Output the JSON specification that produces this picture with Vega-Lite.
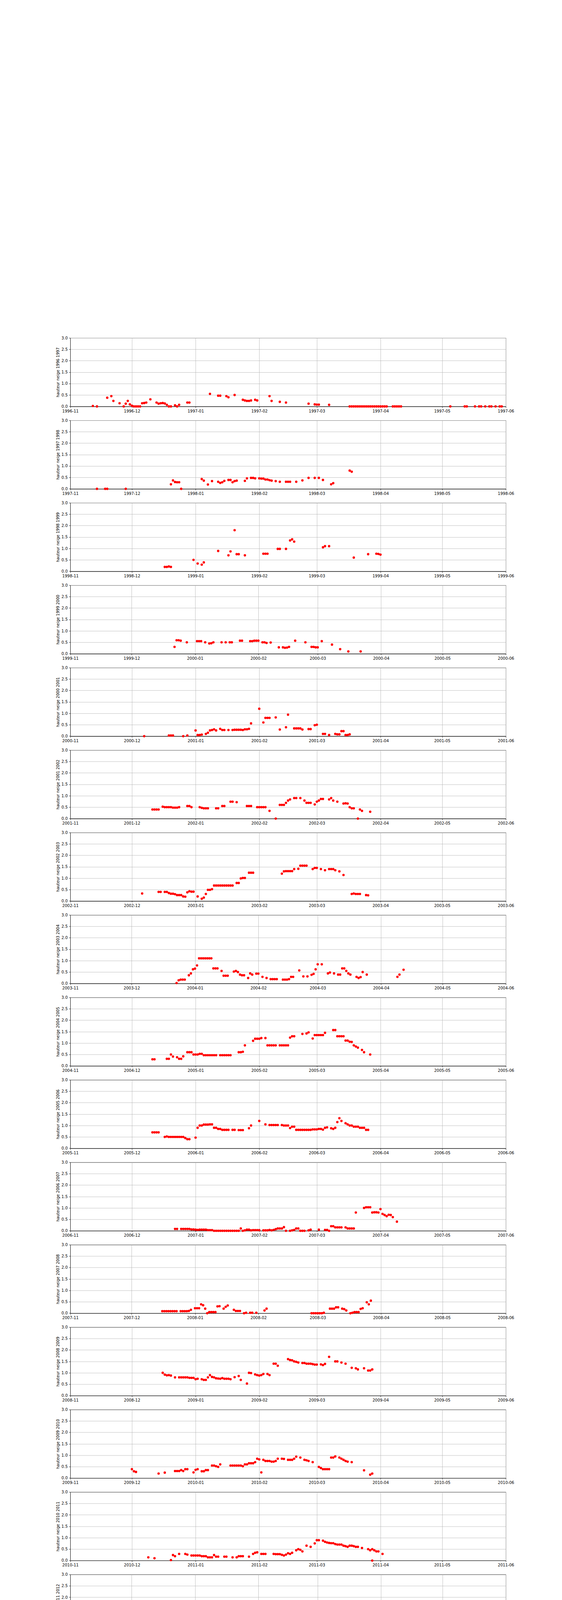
{
"$schema": "https://vega.github.io/schema/vega-lite/v6.json",
"background": "white",
"autosize": {"type": "pad"},
"padding": {"left": 142, "top": 859, "right": 0, "bottom": 880},
"spacing": 35.04,
"bounds": "flush",
"config": {
  "view": {"stroke": "#000000", "strokeWidth": 1},
  "axis": {"labelFont": "DejaVu Sans", "labelFontSize": 10, "labelColor": "#000000", "titleFont": "DejaVu Sans", "titleFontSize": 10, "titleFontWeight": "normal", "titleColor": "#000000", "tickColor": "#000000", "tickSize": 3.5, "tickWidth": 0.8, "domainColor": "#000000", "domainWidth": 1, "gridColor": "#b0b0b0", "gridWidth": 0.8, "labelPadding": 3.5, "titlePadding": 4, "labelFlush": false, "labelOverlap": false, "labelBound": false},
  "axisX": {"labelExpr": "utcFormat(datum.value, '%Y-%m')", "tickCount": {"interval": "month", "step": 1}, "title": null},
  "axisY": {"values": [0, 0.5, 1, 1.5, 2, 2.5, 3], "format": ".1f"},
  "point": {"filled": true, "color": "#ff0000", "opacity": 1, "size": 38, "clip": true}
},
"datasets": {
"s1996": [
{"date":"1996-11-12","hauteur":0.02},{"date":"1996-11-14","hauteur":0},{"date":"1996-11-19","hauteur":0.38},{"date":"1996-11-21","hauteur":0.45},{"date":"1996-11-22","hauteur":0.24},{"date":"1996-11-25","hauteur":0.14},{"date":"1996-11-27","hauteur":0},{"date":"1996-11-28","hauteur":0.12},{"date":"1996-11-29","hauteur":0.24},{"date":"1996-11-30","hauteur":0.09},{"date":"1996-12-01","hauteur":0.03},{"date":"1996-12-02","hauteur":0},{"date":"1996-12-03","hauteur":0},{"date":"1996-12-04","hauteur":0},{"date":"1996-12-05","hauteur":0},{"date":"1996-12-06","hauteur":0.14},{"date":"1996-12-07","hauteur":0.15},{"date":"1996-12-08","hauteur":0.17},{"date":"1996-12-10","hauteur":0.31},{"date":"1996-12-13","hauteur":0.17},{"date":"1996-12-14","hauteur":0.12},{"date":"1996-12-15","hauteur":0.14},{"date":"1996-12-16","hauteur":0.15},{"date":"1996-12-17","hauteur":0.13},{"date":"1996-12-18","hauteur":0.07},{"date":"1996-12-19","hauteur":0},{"date":"1996-12-20","hauteur":0},{"date":"1996-12-22","hauteur":0.05},{"date":"1996-12-23","hauteur":0},{"date":"1996-12-24","hauteur":0.07},{"date":"1996-12-28","hauteur":0.17},{"date":"1996-12-29","hauteur":0.17},{"date":"1997-01-08","hauteur":0.55},{"date":"1997-01-12","hauteur":0.47},{"date":"1997-01-13","hauteur":0.47},{"date":"1997-01-16","hauteur":0.45},{"date":"1997-01-17","hauteur":0.4},{"date":"1997-01-20","hauteur":0.5},{"date":"1997-01-24","hauteur":0.29},{"date":"1997-01-25","hauteur":0.26},{"date":"1997-01-26","hauteur":0.24},{"date":"1997-01-27","hauteur":0.24},{"date":"1997-01-28","hauteur":0.26},{"date":"1997-01-30","hauteur":0.29},{"date":"1997-01-31","hauteur":0.26},{"date":"1997-02-06","hauteur":0.45},{"date":"1997-02-07","hauteur":0.24},{"date":"1997-02-11","hauteur":0.2},{"date":"1997-02-14","hauteur":0.17},{"date":"1997-02-25","hauteur":0.12},{"date":"1997-02-28","hauteur":0.09},{"date":"1997-03-01","hauteur":0.08},{"date":"1997-03-02","hauteur":0.08},{"date":"1997-03-07","hauteur":0.07},
{"date":"1997-03-17","hauteur":0},{"date":"1997-03-18","hauteur":0},{"date":"1997-03-19","hauteur":0},{"date":"1997-03-20","hauteur":0},{"date":"1997-03-21","hauteur":0},{"date":"1997-03-22","hauteur":0},{"date":"1997-03-23","hauteur":0},{"date":"1997-03-24","hauteur":0},{"date":"1997-03-25","hauteur":0},{"date":"1997-03-26","hauteur":0},{"date":"1997-03-27","hauteur":0},{"date":"1997-03-28","hauteur":0},{"date":"1997-03-29","hauteur":0},{"date":"1997-03-30","hauteur":0},{"date":"1997-03-31","hauteur":0},{"date":"1997-04-01","hauteur":0},{"date":"1997-04-02","hauteur":0},{"date":"1997-04-03","hauteur":0},{"date":"1997-04-04","hauteur":0},{"date":"1997-04-07","hauteur":0},{"date":"1997-04-08","hauteur":0},{"date":"1997-04-09","hauteur":0},{"date":"1997-04-10","hauteur":0},{"date":"1997-04-11","hauteur":0},{"date":"1997-05-05","hauteur":0},{"date":"1997-05-12","hauteur":0},{"date":"1997-05-13","hauteur":0},{"date":"1997-05-17","hauteur":0},{"date":"1997-05-19","hauteur":0},{"date":"1997-05-20","hauteur":0},{"date":"1997-05-22","hauteur":0},{"date":"1997-05-24","hauteur":0},{"date":"1997-05-25","hauteur":0},{"date":"1997-05-27","hauteur":0},{"date":"1997-05-29","hauteur":0},{"date":"1997-05-30","hauteur":0}
],
"s1997": [
{"date":"1997-11-14","hauteur":0},{"date":"1997-11-18","hauteur":0},{"date":"1997-11-19","hauteur":0},{"date":"1997-11-28","hauteur":0},{"date":"1997-12-20","hauteur":0.2},{"date":"1997-12-21","hauteur":0.37},{"date":"1997-12-22","hauteur":0.3},{"date":"1997-12-23","hauteur":0.29},{"date":"1997-12-24","hauteur":0.29},{"date":"1997-12-25","hauteur":0},{"date":"1998-01-04","hauteur":0.43},{"date":"1998-01-05","hauteur":0.36},{"date":"1998-01-07","hauteur":0.19},{"date":"1998-01-09","hauteur":0.34},{"date":"1998-01-12","hauteur":0.31},{"date":"1998-01-13","hauteur":0.26},{"date":"1998-01-14","hauteur":0.29},{"date":"1998-01-15","hauteur":0.35},{"date":"1998-01-17","hauteur":0.39},{"date":"1998-01-18","hauteur":0.39},{"date":"1998-01-19","hauteur":0.29},{"date":"1998-01-20","hauteur":0.34},{"date":"1998-01-21","hauteur":0.36},{"date":"1998-01-25","hauteur":0.35},{"date":"1998-01-26","hauteur":0.46},{"date":"1998-01-28","hauteur":0.48},{"date":"1998-01-29","hauteur":0.48},{"date":"1998-01-30","hauteur":0.46},{"date":"1998-02-01","hauteur":0.46},{"date":"1998-02-02","hauteur":0.45},{"date":"1998-02-03","hauteur":0.45},{"date":"1998-02-04","hauteur":0.41},{"date":"1998-02-05","hauteur":0.41},{"date":"1998-02-06","hauteur":0.38},{"date":"1998-02-07","hauteur":0.36},{"date":"1998-02-09","hauteur":0.34},{"date":"1998-02-11","hauteur":0.31},{"date":"1998-02-14","hauteur":0.31},{"date":"1998-02-15","hauteur":0.31},{"date":"1998-02-16","hauteur":0.31},{"date":"1998-02-19","hauteur":0.31},{"date":"1998-02-22","hauteur":0.37},{"date":"1998-02-25","hauteur":0.48},{"date":"1998-02-28","hauteur":0.48},{"date":"1998-03-02","hauteur":0.48},{"date":"1998-03-04","hauteur":0.39},{"date":"1998-03-08","hauteur":0.2},{"date":"1998-03-09","hauteur":0.25},{"date":"1998-03-17","hauteur":0.8},{"date":"1998-03-18","hauteur":0.75}
],
"s1998": [
{"date":"1998-12-17","hauteur":0.19},{"date":"1998-12-18","hauteur":0.19},{"date":"1998-12-19","hauteur":0.21},{"date":"1998-12-20","hauteur":0.19},{"date":"1998-12-31","hauteur":0.5},{"date":"1999-01-02","hauteur":0.34},{"date":"1999-01-04","hauteur":0.29},{"date":"1999-01-05","hauteur":0.39},{"date":"1999-01-12","hauteur":0.89},{"date":"1999-01-17","hauteur":0.7},{"date":"1999-01-18","hauteur":0.87},{"date":"1999-01-20","hauteur":1.8},{"date":"1999-01-21","hauteur":0.75},{"date":"1999-01-22","hauteur":0.75},{"date":"1999-01-25","hauteur":0.7},{"date":"1999-02-03","hauteur":0.77},{"date":"1999-02-04","hauteur":0.77},{"date":"1999-02-05","hauteur":0.77},{"date":"1999-02-10","hauteur":0.98},{"date":"1999-02-11","hauteur":0.98},{"date":"1999-02-14","hauteur":0.98},{"date":"1999-02-16","hauteur":1.35},{"date":"1999-02-17","hauteur":1.4},{"date":"1999-02-18","hauteur":1.3},{"date":"1999-03-04","hauteur":1.05},{"date":"1999-03-05","hauteur":1.1},{"date":"1999-03-07","hauteur":1.1},{"date":"1999-03-19","hauteur":0.6},{"date":"1999-03-26","hauteur":0.75},{"date":"1999-03-30","hauteur":0.77},{"date":"1999-03-31","hauteur":0.76},{"date":"1999-04-01","hauteur":0.73}
],
"s1999": [
{"date":"1999-12-22","hauteur":0.3},{"date":"1999-12-23","hauteur":0.59},{"date":"1999-12-24","hauteur":0.59},{"date":"1999-12-25","hauteur":0.57},{"date":"1999-12-28","hauteur":0.5},{"date":"2000-01-02","hauteur":0.55},{"date":"2000-01-03","hauteur":0.55},{"date":"2000-01-04","hauteur":0.55},{"date":"2000-01-06","hauteur":0.5},{"date":"2000-01-08","hauteur":0.45},{"date":"2000-01-09","hauteur":0.46},{"date":"2000-01-10","hauteur":0.5},{"date":"2000-01-14","hauteur":0.5},{"date":"2000-01-16","hauteur":0.5},{"date":"2000-01-18","hauteur":0.5},{"date":"2000-01-19","hauteur":0.5},{"date":"2000-01-23","hauteur":0.57},{"date":"2000-01-24","hauteur":0.57},{"date":"2000-01-28","hauteur":0.55},{"date":"2000-01-29","hauteur":0.55},{"date":"2000-01-30","hauteur":0.57},{"date":"2000-01-31","hauteur":0.57},{"date":"2000-02-01","hauteur":0.57},{"date":"2000-02-03","hauteur":0.5},{"date":"2000-02-04","hauteur":0.5},{"date":"2000-02-05","hauteur":0.47},{"date":"2000-02-07","hauteur":0.49},{"date":"2000-02-11","hauteur":0.28},{"date":"2000-02-13","hauteur":0.28},{"date":"2000-02-14","hauteur":0.26},{"date":"2000-02-15","hauteur":0.27},{"date":"2000-02-16","hauteur":0.3},{"date":"2000-02-19","hauteur":0.57},{"date":"2000-02-24","hauteur":0.5},{"date":"2000-02-27","hauteur":0.3},{"date":"2000-02-28","hauteur":0.3},{"date":"2000-02-29","hauteur":0.28},{"date":"2000-03-01","hauteur":0.28},{"date":"2000-03-03","hauteur":0.55},{"date":"2000-03-08","hauteur":0.4},{"date":"2000-03-12","hauteur":0.2},{"date":"2000-03-16","hauteur":0.1},{"date":"2000-03-22","hauteur":0.1}
],
"s2000": [
{"date":"2000-12-07","hauteur":0},{"date":"2000-12-19","hauteur":0.03},{"date":"2000-12-20","hauteur":0.03},{"date":"2000-12-21","hauteur":0.03},{"date":"2000-12-26","hauteur":0},{"date":"2000-12-28","hauteur":0.03},{"date":"2001-01-01","hauteur":0.25},{"date":"2001-01-02","hauteur":0.05},{"date":"2001-01-03","hauteur":0.05},{"date":"2001-01-04","hauteur":0.07},{"date":"2001-01-06","hauteur":0.1},{"date":"2001-01-07","hauteur":0.15},{"date":"2001-01-08","hauteur":0.25},{"date":"2001-01-09","hauteur":0.27},{"date":"2001-01-10","hauteur":0.3},{"date":"2001-01-11","hauteur":0.25},{"date":"2001-01-13","hauteur":0.32},{"date":"2001-01-14","hauteur":0.27},{"date":"2001-01-15","hauteur":0.27},{"date":"2001-01-17","hauteur":0.27},{"date":"2001-01-19","hauteur":0.27},{"date":"2001-01-20","hauteur":0.28},{"date":"2001-01-21","hauteur":0.28},{"date":"2001-01-22","hauteur":0.28},{"date":"2001-01-23","hauteur":0.28},{"date":"2001-01-24","hauteur":0.27},{"date":"2001-01-25","hauteur":0.3},{"date":"2001-01-26","hauteur":0.3},{"date":"2001-01-27","hauteur":0.32},{"date":"2001-01-28","hauteur":0.56},{"date":"2001-02-01","hauteur":1.2},{"date":"2001-02-03","hauteur":0.6},{"date":"2001-02-04","hauteur":0.8},{"date":"2001-02-05","hauteur":0.8},{"date":"2001-02-06","hauteur":0.8},{"date":"2001-02-09","hauteur":0.82},{"date":"2001-02-11","hauteur":0.29},{"date":"2001-02-14","hauteur":0.39},{"date":"2001-02-15","hauteur":0.94},{"date":"2001-02-18","hauteur":0.34},{"date":"2001-02-19","hauteur":0.34},{"date":"2001-02-20","hauteur":0.34},{"date":"2001-02-21","hauteur":0.34},{"date":"2001-02-22","hauteur":0.29},{"date":"2001-02-25","hauteur":0.31},{"date":"2001-02-26","hauteur":0.31},{"date":"2001-02-28","hauteur":0.48},{"date":"2001-03-01","hauteur":0.5},{"date":"2001-03-04","hauteur":0.1},{"date":"2001-03-05","hauteur":0.1},{"date":"2001-03-07","hauteur":0.05},{"date":"2001-03-10","hauteur":0.1},{"date":"2001-03-11","hauteur":0.08},{"date":"2001-03-12","hauteur":0.08},{"date":"2001-03-13","hauteur":0.22},{"date":"2001-03-14","hauteur":0.22},{"date":"2001-03-15","hauteur":0.05},{"date":"2001-03-16","hauteur":0.05},{"date":"2001-03-17","hauteur":0.08}
],
"s2001": [
{"date":"2001-12-11","hauteur":0.4},{"date":"2001-12-12","hauteur":0.4},{"date":"2001-12-13","hauteur":0.4},{"date":"2001-12-14","hauteur":0.4},{"date":"2001-12-16","hauteur":0.52},{"date":"2001-12-17","hauteur":0.5},{"date":"2001-12-18","hauteur":0.5},{"date":"2001-12-19","hauteur":0.5},{"date":"2001-12-20","hauteur":0.5},{"date":"2001-12-21","hauteur":0.48},{"date":"2001-12-22","hauteur":0.48},{"date":"2001-12-23","hauteur":0.48},{"date":"2001-12-24","hauteur":0.5},{"date":"2001-12-28","hauteur":0.55},{"date":"2001-12-29","hauteur":0.55},{"date":"2001-12-30","hauteur":0.5},{"date":"2002-01-03","hauteur":0.5},{"date":"2002-01-04","hauteur":0.47},{"date":"2002-01-05","hauteur":0.45},{"date":"2002-01-06","hauteur":0.45},{"date":"2002-01-07","hauteur":0.45},{"date":"2002-01-11","hauteur":0.45},{"date":"2002-01-12","hauteur":0.45},{"date":"2002-01-14","hauteur":0.55},{"date":"2002-01-15","hauteur":0.55},{"date":"2002-01-18","hauteur":0.74},{"date":"2002-01-19","hauteur":0.74},{"date":"2002-01-21","hauteur":0.72},{"date":"2002-01-26","hauteur":0.55},{"date":"2002-01-27","hauteur":0.55},{"date":"2002-01-28","hauteur":0.55},{"date":"2002-01-31","hauteur":0.5},{"date":"2002-02-01","hauteur":0.5},{"date":"2002-02-02","hauteur":0.5},{"date":"2002-02-03","hauteur":0.5},{"date":"2002-02-04","hauteur":0.5},{"date":"2002-02-06","hauteur":0.34},{"date":"2002-02-09","hauteur":0},{"date":"2002-02-11","hauteur":0.6},{"date":"2002-02-12","hauteur":0.6},{"date":"2002-02-13","hauteur":0.6},{"date":"2002-02-14","hauteur":0.69},{"date":"2002-02-15","hauteur":0.79},{"date":"2002-02-16","hauteur":0.84},{"date":"2002-02-18","hauteur":0.9},{"date":"2002-02-19","hauteur":0.9},{"date":"2002-02-21","hauteur":0.9},{"date":"2002-02-23","hauteur":0.79},{"date":"2002-02-24","hauteur":0.69},{"date":"2002-02-25","hauteur":0.69},{"date":"2002-02-26","hauteur":0.69},{"date":"2002-02-28","hauteur":0.62},{"date":"2002-03-01","hauteur":0.74},{"date":"2002-03-02","hauteur":0.79},{"date":"2002-03-03","hauteur":0.86},{"date":"2002-03-04","hauteur":0.86},{"date":"2002-03-07","hauteur":0.84},{"date":"2002-03-08","hauteur":0.9},{"date":"2002-03-09","hauteur":0.79},{"date":"2002-03-11","hauteur":0.74},{"date":"2002-03-14","hauteur":0.66},{"date":"2002-03-15","hauteur":0.67},{"date":"2002-03-16","hauteur":0.66},{"date":"2002-03-17","hauteur":0.5},{"date":"2002-03-18","hauteur":0.45},{"date":"2002-03-19","hauteur":0.45},{"date":"2002-03-21","hauteur":0},{"date":"2002-03-22","hauteur":0.4},{"date":"2002-03-23","hauteur":0.34},{"date":"2002-03-27","hauteur":0.3}
],
"s2002": [
{"date":"2002-12-06","hauteur":0.33},{"date":"2002-12-14","hauteur":0.4},{"date":"2002-12-15","hauteur":0.4},{"date":"2002-12-17","hauteur":0.4},{"date":"2002-12-18","hauteur":0.4},{"date":"2002-12-19","hauteur":0.35},{"date":"2002-12-20","hauteur":0.32},{"date":"2002-12-21","hauteur":0.32},{"date":"2002-12-22","hauteur":0.3},{"date":"2002-12-23","hauteur":0.26},{"date":"2002-12-24","hauteur":0.26},{"date":"2002-12-25","hauteur":0.26},{"date":"2002-12-26","hauteur":0.2},{"date":"2002-12-27","hauteur":0.19},{"date":"2002-12-28","hauteur":0.38},{"date":"2002-12-29","hauteur":0.43},{"date":"2002-12-30","hauteur":0.41},{"date":"2002-12-31","hauteur":0.41},{"date":"2003-01-02","hauteur":0.2},{"date":"2003-01-04","hauteur":0.1},{"date":"2003-01-05","hauteur":0.15},{"date":"2003-01-06","hauteur":0.31},{"date":"2003-01-07","hauteur":0.49},{"date":"2003-01-08","hauteur":0.49},{"date":"2003-01-09","hauteur":0.52},{"date":"2003-01-10","hauteur":0.68},{"date":"2003-01-11","hauteur":0.68},{"date":"2003-01-12","hauteur":0.68},{"date":"2003-01-13","hauteur":0.68},{"date":"2003-01-14","hauteur":0.68},{"date":"2003-01-15","hauteur":0.68},{"date":"2003-01-16","hauteur":0.68},{"date":"2003-01-17","hauteur":0.68},{"date":"2003-01-18","hauteur":0.68},{"date":"2003-01-19","hauteur":0.68},{"date":"2003-01-21","hauteur":0.79},{"date":"2003-01-22","hauteur":0.79},{"date":"2003-01-23","hauteur":0.99},{"date":"2003-01-24","hauteur":1.01},{"date":"2003-01-25","hauteur":1.01},{"date":"2003-01-27","hauteur":1.24},{"date":"2003-01-28","hauteur":1.24},{"date":"2003-01-29","hauteur":1.24},{"date":"2003-02-12","hauteur":1.2},{"date":"2003-02-13","hauteur":1.3},{"date":"2003-02-14","hauteur":1.31},{"date":"2003-02-15","hauteur":1.31},{"date":"2003-02-16","hauteur":1.31},{"date":"2003-02-17","hauteur":1.31},{"date":"2003-02-18","hauteur":1.4},{"date":"2003-02-20","hauteur":1.41},{"date":"2003-02-21","hauteur":1.55},{"date":"2003-02-22","hauteur":1.55},{"date":"2003-02-23","hauteur":1.55},{"date":"2003-02-24","hauteur":1.55},{"date":"2003-02-27","hauteur":1.4},{"date":"2003-02-28","hauteur":1.45},{"date":"2003-03-01","hauteur":1.45},{"date":"2003-03-03","hauteur":1.4},{"date":"2003-03-05","hauteur":1.35},{"date":"2003-03-07","hauteur":1.4},{"date":"2003-03-08","hauteur":1.4},{"date":"2003-03-09","hauteur":1.4},{"date":"2003-03-10","hauteur":1.35},{"date":"2003-03-12","hauteur":1.3},{"date":"2003-03-14","hauteur":1.14},{"date":"2003-03-18","hauteur":0.31},{"date":"2003-03-19","hauteur":0.33},{"date":"2003-03-20","hauteur":0.31},{"date":"2003-03-21","hauteur":0.31},{"date":"2003-03-22","hauteur":0.31},{"date":"2003-03-25","hauteur":0.26},{"date":"2003-03-26","hauteur":0.25}
],
"s2003": [
{"date":"2003-12-23","hauteur":0.02},{"date":"2003-12-24","hauteur":0.14},{"date":"2003-12-25","hauteur":0.17},{"date":"2003-12-26","hauteur":0.17},{"date":"2003-12-27","hauteur":0.17},{"date":"2003-12-29","hauteur":0.36},{"date":"2003-12-30","hauteur":0.44},{"date":"2003-12-31","hauteur":0.62},{"date":"2004-01-01","hauteur":0.65},{"date":"2004-01-02","hauteur":0.79},{"date":"2004-01-03","hauteur":1.1},{"date":"2004-01-04","hauteur":1.1},{"date":"2004-01-05","hauteur":1.1},{"date":"2004-01-06","hauteur":1.1},{"date":"2004-01-07","hauteur":1.1},{"date":"2004-01-08","hauteur":1.1},{"date":"2004-01-09","hauteur":1.1},{"date":"2004-01-10","hauteur":0.66},{"date":"2004-01-11","hauteur":0.66},{"date":"2004-01-12","hauteur":0.66},{"date":"2004-01-14","hauteur":0.55},{"date":"2004-01-15","hauteur":0.34},{"date":"2004-01-16","hauteur":0.34},{"date":"2004-01-17","hauteur":0.34},{"date":"2004-01-20","hauteur":0.52},{"date":"2004-01-21","hauteur":0.55},{"date":"2004-01-22","hauteur":0.5},{"date":"2004-01-23","hauteur":0.39},{"date":"2004-01-24","hauteur":0.36},{"date":"2004-01-25","hauteur":0.36},{"date":"2004-01-27","hauteur":0.24},{"date":"2004-01-28","hauteur":0.44},{"date":"2004-01-29","hauteur":0.39},{"date":"2004-01-31","hauteur":0.43},{"date":"2004-02-01","hauteur":0.43},{"date":"2004-02-03","hauteur":0.29},{"date":"2004-02-05","hauteur":0.24},{"date":"2004-02-07","hauteur":0.19},{"date":"2004-02-08","hauteur":0.19},{"date":"2004-02-09","hauteur":0.19},{"date":"2004-02-10","hauteur":0.19},{"date":"2004-02-13","hauteur":0.17},{"date":"2004-02-14","hauteur":0.17},{"date":"2004-02-15","hauteur":0.17},{"date":"2004-02-16","hauteur":0.19},{"date":"2004-02-17","hauteur":0.29},{"date":"2004-02-18","hauteur":0.29},{"date":"2004-02-21","hauteur":0.57},{"date":"2004-02-23","hauteur":0.31},{"date":"2004-02-25","hauteur":0.31},{"date":"2004-02-27","hauteur":0.38},{"date":"2004-02-28","hauteur":0.42},{"date":"2004-02-29","hauteur":0.62},{"date":"2004-03-01","hauteur":0.84},{"date":"2004-03-03","hauteur":0.84},{"date":"2004-03-06","hauteur":0.44},{"date":"2004-03-07","hauteur":0.48},{"date":"2004-03-09","hauteur":0.44},{"date":"2004-03-11","hauteur":0.39},{"date":"2004-03-12","hauteur":0.39},{"date":"2004-03-13","hauteur":0.66},{"date":"2004-03-14","hauteur":0.66},{"date":"2004-03-15","hauteur":0.55},{"date":"2004-03-16","hauteur":0.44},{"date":"2004-03-17","hauteur":0.39},{"date":"2004-03-20","hauteur":0.29},{"date":"2004-03-21","hauteur":0.24},{"date":"2004-03-22","hauteur":0.28},{"date":"2004-03-23","hauteur":0.5},{"date":"2004-03-25","hauteur":0.39},{"date":"2004-04-09","hauteur":0.29},{"date":"2004-04-10","hauteur":0.39},{"date":"2004-04-12","hauteur":0.6}
],
"s2004": [
{"date":"2004-12-11","hauteur":0.29},{"date":"2004-12-12","hauteur":0.29},{"date":"2004-12-18","hauteur":0.31},{"date":"2004-12-19","hauteur":0.31},{"date":"2004-12-20","hauteur":0.5},{"date":"2004-12-21","hauteur":0.41},{"date":"2004-12-23","hauteur":0.38},{"date":"2004-12-24","hauteur":0.31},{"date":"2004-12-25","hauteur":0.31},{"date":"2004-12-26","hauteur":0.42},{"date":"2004-12-28","hauteur":0.6},{"date":"2004-12-29","hauteur":0.6},{"date":"2004-12-30","hauteur":0.6},{"date":"2004-12-31","hauteur":0.5},{"date":"2005-01-01","hauteur":0.5},{"date":"2005-01-02","hauteur":0.5},{"date":"2005-01-03","hauteur":0.53},{"date":"2005-01-04","hauteur":0.53},{"date":"2005-01-05","hauteur":0.47},{"date":"2005-01-06","hauteur":0.47},{"date":"2005-01-07","hauteur":0.47},{"date":"2005-01-08","hauteur":0.47},{"date":"2005-01-09","hauteur":0.47},{"date":"2005-01-10","hauteur":0.47},{"date":"2005-01-11","hauteur":0.47},{"date":"2005-01-13","hauteur":0.47},{"date":"2005-01-14","hauteur":0.47},{"date":"2005-01-15","hauteur":0.47},{"date":"2005-01-16","hauteur":0.47},{"date":"2005-01-17","hauteur":0.47},{"date":"2005-01-18","hauteur":0.47},{"date":"2005-01-22","hauteur":0.6},{"date":"2005-01-23","hauteur":0.6},{"date":"2005-01-24","hauteur":0.62},{"date":"2005-01-25","hauteur":0.9},{"date":"2005-01-29","hauteur":1.1},{"date":"2005-01-30","hauteur":1.19},{"date":"2005-01-31","hauteur":1.19},{"date":"2005-02-01","hauteur":1.19},{"date":"2005-02-02","hauteur":1.22},{"date":"2005-02-04","hauteur":1.22},{"date":"2005-02-05","hauteur":0.9},{"date":"2005-02-06","hauteur":0.9},{"date":"2005-02-07","hauteur":0.9},{"date":"2005-02-08","hauteur":0.9},{"date":"2005-02-09","hauteur":0.9},{"date":"2005-02-11","hauteur":0.9},{"date":"2005-02-12","hauteur":0.9},{"date":"2005-02-13","hauteur":0.9},{"date":"2005-02-14","hauteur":0.9},{"date":"2005-02-15","hauteur":0.9},{"date":"2005-02-16","hauteur":1.24},{"date":"2005-02-17","hauteur":1.3},{"date":"2005-02-18","hauteur":1.3},{"date":"2005-02-22","hauteur":1.4},{"date":"2005-02-24","hauteur":1.42},{"date":"2005-02-25","hauteur":1.47},{"date":"2005-02-27","hauteur":1.2},{"date":"2005-02-28","hauteur":1.35},{"date":"2005-03-01","hauteur":1.35},{"date":"2005-03-02","hauteur":1.35},{"date":"2005-03-03","hauteur":1.35},{"date":"2005-03-04","hauteur":1.35},{"date":"2005-03-05","hauteur":1.45},{"date":"2005-03-09","hauteur":1.57},{"date":"2005-03-10","hauteur":1.57},{"date":"2005-03-11","hauteur":1.3},{"date":"2005-03-12","hauteur":1.3},{"date":"2005-03-13","hauteur":1.3},{"date":"2005-03-14","hauteur":1.3},{"date":"2005-03-15","hauteur":1.11},{"date":"2005-03-16","hauteur":1.11},{"date":"2005-03-17","hauteur":1.06},{"date":"2005-03-18","hauteur":1.05},{"date":"2005-03-19","hauteur":0.9},{"date":"2005-03-20","hauteur":0.85},{"date":"2005-03-21","hauteur":0.8},{"date":"2005-03-23","hauteur":0.7},{"date":"2005-03-24","hauteur":0.6},{"date":"2005-03-27","hauteur":0.5}
],
"s2005": [
{"date":"2005-12-11","hauteur":0.7},{"date":"2005-12-12","hauteur":0.7},{"date":"2005-12-13","hauteur":0.7},{"date":"2005-12-14","hauteur":0.7},{"date":"2005-12-17","hauteur":0.5},{"date":"2005-12-18","hauteur":0.52},{"date":"2005-12-19","hauteur":0.5},{"date":"2005-12-20","hauteur":0.5},{"date":"2005-12-21","hauteur":0.5},{"date":"2005-12-22","hauteur":0.5},{"date":"2005-12-23","hauteur":0.5},{"date":"2005-12-24","hauteur":0.5},{"date":"2005-12-25","hauteur":0.5},{"date":"2005-12-26","hauteur":0.5},{"date":"2005-12-27","hauteur":0.45},{"date":"2005-12-28","hauteur":0.4},{"date":"2005-12-29","hauteur":0.4},{"date":"2006-01-01","hauteur":0.47},{"date":"2006-01-02","hauteur":0.9},{"date":"2006-01-03","hauteur":1.0},{"date":"2006-01-04","hauteur":1.0},{"date":"2006-01-05","hauteur":1.04},{"date":"2006-01-06","hauteur":1.04},{"date":"2006-01-07","hauteur":1.04},{"date":"2006-01-08","hauteur":1.05},{"date":"2006-01-09","hauteur":1.05},{"date":"2006-01-10","hauteur":0.9},{"date":"2006-01-11","hauteur":0.9},{"date":"2006-01-12","hauteur":0.85},{"date":"2006-01-13","hauteur":0.85},{"date":"2006-01-14","hauteur":0.81},{"date":"2006-01-15","hauteur":0.81},{"date":"2006-01-16","hauteur":0.81},{"date":"2006-01-17","hauteur":0.81},{"date":"2006-01-19","hauteur":0.81},{"date":"2006-01-20","hauteur":0.81},{"date":"2006-01-22","hauteur":0.8},{"date":"2006-01-23","hauteur":0.8},{"date":"2006-01-24","hauteur":0.8},{"date":"2006-01-27","hauteur":0.88},{"date":"2006-01-28","hauteur":1.0},{"date":"2006-02-01","hauteur":1.2},{"date":"2006-02-04","hauteur":1.05},{"date":"2006-02-06","hauteur":1.02},{"date":"2006-02-07","hauteur":1.02},{"date":"2006-02-08","hauteur":1.02},{"date":"2006-02-09","hauteur":1.02},{"date":"2006-02-10","hauteur":1.02},{"date":"2006-02-12","hauteur":1.02},{"date":"2006-02-13","hauteur":1.0},{"date":"2006-02-14","hauteur":1.0},{"date":"2006-02-15","hauteur":1.0},{"date":"2006-02-16","hauteur":0.89},{"date":"2006-02-17","hauteur":0.95},{"date":"2006-02-18","hauteur":0.95},{"date":"2006-02-19","hauteur":0.81},{"date":"2006-02-20","hauteur":0.81},{"date":"2006-02-21","hauteur":0.81},{"date":"2006-02-22","hauteur":0.81},{"date":"2006-02-23","hauteur":0.81},{"date":"2006-02-24","hauteur":0.81},{"date":"2006-02-25","hauteur":0.81},{"date":"2006-02-26","hauteur":0.81},{"date":"2006-02-27","hauteur":0.83},{"date":"2006-02-28","hauteur":0.83},{"date":"2006-03-01","hauteur":0.83},{"date":"2006-03-02","hauteur":0.85},{"date":"2006-03-03","hauteur":0.85},{"date":"2006-03-04","hauteur":0.82},{"date":"2006-03-05","hauteur":0.9},{"date":"2006-03-06","hauteur":0.92},{"date":"2006-03-08","hauteur":0.88},{"date":"2006-03-09","hauteur":0.85},{"date":"2006-03-10","hauteur":0.9},{"date":"2006-03-11","hauteur":1.15},{"date":"2006-03-12","hauteur":1.32},{"date":"2006-03-13","hauteur":1.2},{"date":"2006-03-15","hauteur":1.1},{"date":"2006-03-16","hauteur":1.05},{"date":"2006-03-17","hauteur":1.0},{"date":"2006-03-18","hauteur":1.0},{"date":"2006-03-19","hauteur":0.95},{"date":"2006-03-20","hauteur":0.95},{"date":"2006-03-21","hauteur":0.95},{"date":"2006-03-22","hauteur":0.9},{"date":"2006-03-23","hauteur":0.9},{"date":"2006-03-24","hauteur":0.9},{"date":"2006-03-25","hauteur":0.81},{"date":"2006-03-26","hauteur":0.81}
],
"s2006": [
{"date":"2006-12-22","hauteur":0.08},{"date":"2006-12-23","hauteur":0.08},{"date":"2006-12-25","hauteur":0.08},{"date":"2006-12-26","hauteur":0.08},{"date":"2006-12-27","hauteur":0.08},{"date":"2006-12-28","hauteur":0.08},{"date":"2006-12-29","hauteur":0.08},{"date":"2006-12-30","hauteur":0.06},{"date":"2006-12-31","hauteur":0.06},{"date":"2007-01-01","hauteur":0.05},{"date":"2007-01-02","hauteur":0.04},{"date":"2007-01-03","hauteur":0.05},{"date":"2007-01-04","hauteur":0.05},{"date":"2007-01-05","hauteur":0.05},{"date":"2007-01-06","hauteur":0.05},{"date":"2007-01-07","hauteur":0.03},{"date":"2007-01-08","hauteur":0.03},{"date":"2007-01-09","hauteur":0.03},{"date":"2007-01-10","hauteur":0},{"date":"2007-01-11","hauteur":0},{"date":"2007-01-12","hauteur":0},{"date":"2007-01-13","hauteur":0},{"date":"2007-01-14","hauteur":0},{"date":"2007-01-15","hauteur":0},{"date":"2007-01-16","hauteur":0},{"date":"2007-01-17","hauteur":0},{"date":"2007-01-18","hauteur":0},{"date":"2007-01-19","hauteur":0},{"date":"2007-01-20","hauteur":0},{"date":"2007-01-21","hauteur":0},{"date":"2007-01-22","hauteur":0},{"date":"2007-01-23","hauteur":0.1},{"date":"2007-01-24","hauteur":0},{"date":"2007-01-25","hauteur":0.02},{"date":"2007-01-26","hauteur":0.05},{"date":"2007-01-27","hauteur":0.05},{"date":"2007-01-28","hauteur":0.02},{"date":"2007-01-29","hauteur":0.03},{"date":"2007-01-30","hauteur":0.03},{"date":"2007-01-31","hauteur":0.03},{"date":"2007-02-01","hauteur":0.03},{"date":"2007-02-03","hauteur":0.02},{"date":"2007-02-04","hauteur":0.02},{"date":"2007-02-05","hauteur":0.02},{"date":"2007-02-06","hauteur":0.04},{"date":"2007-02-07","hauteur":0.02},{"date":"2007-02-08","hauteur":0.04},{"date":"2007-02-09","hauteur":0.07},{"date":"2007-02-10","hauteur":0.1},{"date":"2007-02-11","hauteur":0.1},{"date":"2007-02-12","hauteur":0.1},{"date":"2007-02-13","hauteur":0.16},{"date":"2007-02-14","hauteur":0},{"date":"2007-02-16","hauteur":0},{"date":"2007-02-17","hauteur":0.02},{"date":"2007-02-18","hauteur":0.04},{"date":"2007-02-19","hauteur":0.1},{"date":"2007-02-20","hauteur":0.1},{"date":"2007-02-21","hauteur":0},{"date":"2007-02-22","hauteur":0},{"date":"2007-02-23","hauteur":0},{"date":"2007-02-25","hauteur":0.02},{"date":"2007-02-26","hauteur":0.05},{"date":"2007-03-02","hauteur":0.05},{"date":"2007-03-05","hauteur":0.04},{"date":"2007-03-06","hauteur":0.04},{"date":"2007-03-07","hauteur":0},{"date":"2007-03-08","hauteur":0.2},{"date":"2007-03-09","hauteur":0.2},{"date":"2007-03-10","hauteur":0.15},{"date":"2007-03-11","hauteur":0.15},{"date":"2007-03-12","hauteur":0.15},{"date":"2007-03-13","hauteur":0.15},{"date":"2007-03-15","hauteur":0.15},{"date":"2007-03-16","hauteur":0.1},{"date":"2007-03-17","hauteur":0.1},{"date":"2007-03-18","hauteur":0.1},{"date":"2007-03-19","hauteur":0.1},{"date":"2007-03-20","hauteur":0.8},{"date":"2007-03-24","hauteur":1.0},{"date":"2007-03-25","hauteur":1.03},{"date":"2007-03-26","hauteur":1.03},{"date":"2007-03-27","hauteur":1.03},{"date":"2007-03-28","hauteur":0.8},{"date":"2007-03-29","hauteur":0.81},{"date":"2007-03-30","hauteur":0.81},{"date":"2007-03-31","hauteur":0.8},{"date":"2007-04-01","hauteur":0.95},{"date":"2007-04-02","hauteur":0.74},{"date":"2007-04-03","hauteur":0.69},{"date":"2007-04-04","hauteur":0.64},{"date":"2007-04-05","hauteur":0.7},{"date":"2007-04-06","hauteur":0.69},{"date":"2007-04-07","hauteur":0.6},{"date":"2007-04-09","hauteur":0.4}
],
"s2007": [
{"date":"2007-12-16","hauteur":0.09},{"date":"2007-12-17","hauteur":0.09},{"date":"2007-12-18","hauteur":0.09},{"date":"2007-12-19","hauteur":0.09},{"date":"2007-12-20","hauteur":0.09},{"date":"2007-12-21","hauteur":0.09},{"date":"2007-12-22","hauteur":0.09},{"date":"2007-12-23","hauteur":0.09},{"date":"2007-12-25","hauteur":0.09},{"date":"2007-12-26","hauteur":0.09},{"date":"2007-12-27","hauteur":0.09},{"date":"2007-12-28","hauteur":0.09},{"date":"2007-12-29","hauteur":0.1},{"date":"2007-12-30","hauteur":0.15},{"date":"2008-01-01","hauteur":0.22},{"date":"2008-01-02","hauteur":0.22},{"date":"2008-01-03","hauteur":0.22},{"date":"2008-01-04","hauteur":0.39},{"date":"2008-01-05","hauteur":0.35},{"date":"2008-01-06","hauteur":0.2},{"date":"2008-01-07","hauteur":0},{"date":"2008-01-08","hauteur":0.05},{"date":"2008-01-09","hauteur":0.05},{"date":"2008-01-10","hauteur":0.05},{"date":"2008-01-11","hauteur":0.05},{"date":"2008-01-12","hauteur":0.3},{"date":"2008-01-13","hauteur":0.31},{"date":"2008-01-15","hauteur":0.2},{"date":"2008-01-16","hauteur":0.28},{"date":"2008-01-17","hauteur":0.34},{"date":"2008-01-20","hauteur":0.15},{"date":"2008-01-21","hauteur":0.1},{"date":"2008-01-22","hauteur":0.1},{"date":"2008-01-23","hauteur":0.1},{"date":"2008-01-25","hauteur":0},{"date":"2008-01-26","hauteur":0.02},{"date":"2008-01-28","hauteur":0.02},{"date":"2008-01-29","hauteur":0.02},{"date":"2008-01-31","hauteur":0.02},{"date":"2008-02-04","hauteur":0.12},{"date":"2008-02-05","hauteur":0.2},{"date":"2008-02-27","hauteur":0},{"date":"2008-02-28","hauteur":0},{"date":"2008-02-29","hauteur":0},{"date":"2008-03-01","hauteur":0},{"date":"2008-03-02","hauteur":0},{"date":"2008-03-03","hauteur":0},{"date":"2008-03-04","hauteur":0.02},{"date":"2008-03-07","hauteur":0.2},{"date":"2008-03-08","hauteur":0.2},{"date":"2008-03-09","hauteur":0.2},{"date":"2008-03-10","hauteur":0.26},{"date":"2008-03-11","hauteur":0.26},{"date":"2008-03-13","hauteur":0.2},{"date":"2008-03-14","hauteur":0.18},{"date":"2008-03-15","hauteur":0.12},{"date":"2008-03-17","hauteur":0},{"date":"2008-03-18","hauteur":0.02},{"date":"2008-03-19","hauteur":0.05},{"date":"2008-03-20","hauteur":0.05},{"date":"2008-03-21","hauteur":0.05},{"date":"2008-03-22","hauteur":0.19},{"date":"2008-03-23","hauteur":0.22},{"date":"2008-03-25","hauteur":0.48},{"date":"2008-03-26","hauteur":0.39},{"date":"2008-03-27","hauteur":0.55}
],
"s2008": [
{"date":"2008-12-16","hauteur":1.0},{"date":"2008-12-17","hauteur":0.92},{"date":"2008-12-18","hauteur":0.89},{"date":"2008-12-19","hauteur":0.9},{"date":"2008-12-20","hauteur":0.88},{"date":"2008-12-22","hauteur":0.8},{"date":"2008-12-24","hauteur":0.8},{"date":"2008-12-25","hauteur":0.8},{"date":"2008-12-26","hauteur":0.8},{"date":"2008-12-27","hauteur":0.8},{"date":"2008-12-28","hauteur":0.8},{"date":"2008-12-29","hauteur":0.78},{"date":"2008-12-30","hauteur":0.78},{"date":"2008-12-31","hauteur":0.78},{"date":"2009-01-01","hauteur":0.72},{"date":"2009-01-02","hauteur":0.74},{"date":"2009-01-04","hauteur":0.72},{"date":"2009-01-05","hauteur":0.69},{"date":"2009-01-06","hauteur":0.69},{"date":"2009-01-07","hauteur":0.8},{"date":"2009-01-08","hauteur":0.9},{"date":"2009-01-09","hauteur":0.82},{"date":"2009-01-10","hauteur":0.8},{"date":"2009-01-11","hauteur":0.76},{"date":"2009-01-12","hauteur":0.75},{"date":"2009-01-13","hauteur":0.74},{"date":"2009-01-14","hauteur":0.77},{"date":"2009-01-15","hauteur":0.74},{"date":"2009-01-16","hauteur":0.74},{"date":"2009-01-17","hauteur":0.74},{"date":"2009-01-18","hauteur":0.72},{"date":"2009-01-20","hauteur":0.81},{"date":"2009-01-22","hauteur":0.86},{"date":"2009-01-23","hauteur":0.69},{"date":"2009-01-26","hauteur":0.53},{"date":"2009-01-27","hauteur":1.0},{"date":"2009-01-28","hauteur":0.99},{"date":"2009-01-30","hauteur":0.93},{"date":"2009-01-31","hauteur":0.9},{"date":"2009-02-01","hauteur":0.88},{"date":"2009-02-02","hauteur":0.9},{"date":"2009-02-03","hauteur":0.95},{"date":"2009-02-05","hauteur":0.95},{"date":"2009-02-06","hauteur":0.9},{"date":"2009-02-08","hauteur":1.4},{"date":"2009-02-09","hauteur":1.4},{"date":"2009-02-10","hauteur":1.31},{"date":"2009-02-15","hauteur":1.6},{"date":"2009-02-16","hauteur":1.56},{"date":"2009-02-17","hauteur":1.55},{"date":"2009-02-18","hauteur":1.5},{"date":"2009-02-19","hauteur":1.48},{"date":"2009-02-20","hauteur":1.45},{"date":"2009-02-22","hauteur":1.43},{"date":"2009-02-23","hauteur":1.43},{"date":"2009-02-24","hauteur":1.4},{"date":"2009-02-25","hauteur":1.4},{"date":"2009-02-26","hauteur":1.4},{"date":"2009-02-27","hauteur":1.38},{"date":"2009-02-28","hauteur":1.36},{"date":"2009-03-01","hauteur":1.36},{"date":"2009-03-03","hauteur":1.37},{"date":"2009-03-04","hauteur":1.34},{"date":"2009-03-05","hauteur":1.39},{"date":"2009-03-07","hauteur":1.7},{"date":"2009-03-10","hauteur":1.5},{"date":"2009-03-11","hauteur":1.5},{"date":"2009-03-13","hauteur":1.45},{"date":"2009-03-15","hauteur":1.4},{"date":"2009-03-18","hauteur":1.22},{"date":"2009-03-20","hauteur":1.2},{"date":"2009-03-21","hauteur":1.15},{"date":"2009-03-24","hauteur":1.2},{"date":"2009-03-26","hauteur":1.1},{"date":"2009-03-27","hauteur":1.1},{"date":"2009-03-28","hauteur":1.15}
],
"s2009": [
{"date":"2009-12-01","hauteur":0.39},{"date":"2009-12-02","hauteur":0.3},{"date":"2009-12-03","hauteur":0.27},{"date":"2009-12-14","hauteur":0.2},{"date":"2009-12-17","hauteur":0.24},{"date":"2009-12-22","hauteur":0.31},{"date":"2009-12-23","hauteur":0.31},{"date":"2009-12-24","hauteur":0.31},{"date":"2009-12-25","hauteur":0.35},{"date":"2009-12-26","hauteur":0.31},{"date":"2009-12-27","hauteur":0.39},{"date":"2009-12-28","hauteur":0.39},{"date":"2009-12-31","hauteur":0.25},{"date":"2010-01-01","hauteur":0.36},{"date":"2010-01-02","hauteur":0.39},{"date":"2010-01-04","hauteur":0.3},{"date":"2010-01-05","hauteur":0.3},{"date":"2010-01-06","hauteur":0.35},{"date":"2010-01-07","hauteur":0.35},{"date":"2010-01-09","hauteur":0.55},{"date":"2010-01-10","hauteur":0.55},{"date":"2010-01-11","hauteur":0.52},{"date":"2010-01-12","hauteur":0.49},{"date":"2010-01-13","hauteur":0.6},{"date":"2010-01-18","hauteur":0.55},{"date":"2010-01-19","hauteur":0.55},{"date":"2010-01-20","hauteur":0.55},{"date":"2010-01-21","hauteur":0.55},{"date":"2010-01-22","hauteur":0.55},{"date":"2010-01-23","hauteur":0.55},{"date":"2010-01-24","hauteur":0.52},{"date":"2010-01-25","hauteur":0.6},{"date":"2010-01-26","hauteur":0.6},{"date":"2010-01-27","hauteur":0.65},{"date":"2010-01-28","hauteur":0.65},{"date":"2010-01-29","hauteur":0.65},{"date":"2010-01-30","hauteur":0.7},{"date":"2010-01-31","hauteur":0.85},{"date":"2010-02-01","hauteur":0.82},{"date":"2010-02-02","hauteur":0.25},{"date":"2010-02-03","hauteur":0.8},{"date":"2010-02-04","hauteur":0.75},{"date":"2010-02-05","hauteur":0.75},{"date":"2010-02-06","hauteur":0.75},{"date":"2010-02-07","hauteur":0.72},{"date":"2010-02-08","hauteur":0.72},{"date":"2010-02-09","hauteur":0.75},{"date":"2010-02-10","hauteur":0.85},{"date":"2010-02-12","hauteur":0.85},{"date":"2010-02-13","hauteur":0.84},{"date":"2010-02-15","hauteur":0.8},{"date":"2010-02-16","hauteur":0.8},{"date":"2010-02-17","hauteur":0.8},{"date":"2010-02-18","hauteur":0.85},{"date":"2010-02-19","hauteur":0.94},{"date":"2010-02-21","hauteur":0.9},{"date":"2010-02-23","hauteur":0.8},{"date":"2010-02-24","hauteur":0.78},{"date":"2010-02-25","hauteur":0.75},{"date":"2010-02-27","hauteur":0.7},{"date":"2010-03-02","hauteur":0.49},{"date":"2010-03-03","hauteur":0.44},{"date":"2010-03-04","hauteur":0.39},{"date":"2010-03-05","hauteur":0.39},{"date":"2010-03-06","hauteur":0.39},{"date":"2010-03-07","hauteur":0.39},{"date":"2010-03-08","hauteur":0.9},{"date":"2010-03-09","hauteur":0.9},{"date":"2010-03-10","hauteur":0.95},{"date":"2010-03-12","hauteur":0.9},{"date":"2010-03-13","hauteur":0.85},{"date":"2010-03-14","hauteur":0.8},{"date":"2010-03-15","hauteur":0.75},{"date":"2010-03-16","hauteur":0.72},{"date":"2010-03-18","hauteur":0.7},{"date":"2010-03-24","hauteur":0.34},{"date":"2010-03-27","hauteur":0.15},{"date":"2010-03-28","hauteur":0.2}
],
"s2010": [
{"date":"2010-12-09","hauteur":0.14},{"date":"2010-12-12","hauteur":0.1},{"date":"2010-12-20","hauteur":0.02},{"date":"2010-12-21","hauteur":0.24},{"date":"2010-12-22","hauteur":0.19},{"date":"2010-12-24","hauteur":0.29},{"date":"2010-12-27","hauteur":0.29},{"date":"2010-12-28","hauteur":0.26},{"date":"2010-12-30","hauteur":0.22},{"date":"2010-12-31","hauteur":0.22},{"date":"2011-01-01","hauteur":0.22},{"date":"2011-01-02","hauteur":0.22},{"date":"2011-01-03","hauteur":0.22},{"date":"2011-01-04","hauteur":0.19},{"date":"2011-01-05","hauteur":0.19},{"date":"2011-01-06","hauteur":0.19},{"date":"2011-01-07","hauteur":0.14},{"date":"2011-01-08","hauteur":0.14},{"date":"2011-01-09","hauteur":0.14},{"date":"2011-01-10","hauteur":0.24},{"date":"2011-01-11","hauteur":0.17},{"date":"2011-01-12","hauteur":0.17},{"date":"2011-01-15","hauteur":0.17},{"date":"2011-01-16","hauteur":0.17},{"date":"2011-01-19","hauteur":0.14},{"date":"2011-01-21","hauteur":0.14},{"date":"2011-01-22","hauteur":0.19},{"date":"2011-01-23","hauteur":0.19},{"date":"2011-01-24","hauteur":0.19},{"date":"2011-01-27","hauteur":0.17},{"date":"2011-01-29","hauteur":0.29},{"date":"2011-01-30","hauteur":0.34},{"date":"2011-01-31","hauteur":0.36},{"date":"2011-02-02","hauteur":0.29},{"date":"2011-02-03","hauteur":0.29},{"date":"2011-02-04","hauteur":0.29},{"date":"2011-02-08","hauteur":0.29},{"date":"2011-02-09","hauteur":0.28},{"date":"2011-02-10","hauteur":0.28},{"date":"2011-02-11","hauteur":0.28},{"date":"2011-02-12","hauteur":0.25},{"date":"2011-02-13","hauteur":0.22},{"date":"2011-02-14","hauteur":0.26},{"date":"2011-02-15","hauteur":0.32},{"date":"2011-02-16","hauteur":0.29},{"date":"2011-02-17","hauteur":0.34},{"date":"2011-02-19","hauteur":0.45},{"date":"2011-02-20","hauteur":0.5},{"date":"2011-02-21","hauteur":0.47},{"date":"2011-02-22","hauteur":0.4},{"date":"2011-02-24","hauteur":0.65},{"date":"2011-02-26","hauteur":0.6},{"date":"2011-02-28","hauteur":0.75},{"date":"2011-03-01","hauteur":0.89},{"date":"2011-03-02","hauteur":0.89},{"date":"2011-03-04","hauteur":0.87},{"date":"2011-03-05","hauteur":0.82},{"date":"2011-03-06","hauteur":0.79},{"date":"2011-03-07","hauteur":0.77},{"date":"2011-03-08","hauteur":0.76},{"date":"2011-03-09","hauteur":0.76},{"date":"2011-03-10","hauteur":0.72},{"date":"2011-03-11","hauteur":0.7},{"date":"2011-03-12","hauteur":0.7},{"date":"2011-03-13","hauteur":0.7},{"date":"2011-03-14","hauteur":0.65},{"date":"2011-03-15","hauteur":0.63},{"date":"2011-03-16","hauteur":0.6},{"date":"2011-03-17","hauteur":0.65},{"date":"2011-03-18","hauteur":0.65},{"date":"2011-03-19","hauteur":0.63},{"date":"2011-03-20","hauteur":0.6},{"date":"2011-03-21","hauteur":0.6},{"date":"2011-03-23","hauteur":0.55},{"date":"2011-03-26","hauteur":0.5},{"date":"2011-03-27","hauteur":0.45},{"date":"2011-03-28","hauteur":0.5},{"date":"2011-03-28","hauteur":0},{"date":"2011-03-29","hauteur":0.45},{"date":"2011-03-30","hauteur":0.4},{"date":"2011-03-31","hauteur":0.4},{"date":"2011-04-02","hauteur":0.29}
],
"s2011": [
{"date":"2011-12-17","hauteur":0.1},{"date":"2011-12-18","hauteur":0.6},{"date":"2011-12-21","hauteur":0.38},{"date":"2011-12-22","hauteur":0.26},{"date":"2011-12-23","hauteur":0.22},{"date":"2011-12-24","hauteur":0.25},{"date":"2011-12-25","hauteur":0.26},{"date":"2011-12-26","hauteur":0.24},{"date":"2011-12-27","hauteur":0.24},{"date":"2011-12-28","hauteur":0.23},{"date":"2011-12-29","hauteur":0.26},{"date":"2011-12-30","hauteur":0.26},{"date":"2011-12-31","hauteur":0.24},{"date":"2012-01-02","hauteur":0.2},{"date":"2012-01-03","hauteur":0.31},{"date":"2012-01-04","hauteur":0.26},{"date":"2012-01-05","hauteur":0.23},{"date":"2012-01-06","hauteur":0.18},{"date":"2012-01-07","hauteur":0.15},{"date":"2012-01-08","hauteur":0.15},{"date":"2012-01-09","hauteur":0.15},{"date":"2012-01-10","hauteur":0.15},{"date":"2012-01-11","hauteur":0.15},{"date":"2012-01-12","hauteur":0.15},{"date":"2012-01-13","hauteur":0.15},{"date":"2012-01-14","hauteur":0.15},{"date":"2012-01-15","hauteur":0.15},{"date":"2012-01-16","hauteur":0.15},{"date":"2012-01-18","hauteur":0.15},{"date":"2012-01-19","hauteur":0.15},{"date":"2012-01-21","hauteur":0.15},{"date":"2012-01-22","hauteur":0.15},{"date":"2012-01-23","hauteur":0.15},{"date":"2012-01-24","hauteur":0.15},{"date":"2012-01-25","hauteur":0.15},{"date":"2012-01-26","hauteur":0.15},{"date":"2012-01-27","hauteur":0.15},{"date":"2012-01-28","hauteur":0.17},{"date":"2012-01-31","hauteur":0.5},{"date":"2012-02-01","hauteur":0.55},{"date":"2012-02-02","hauteur":0.78},{"date":"2012-02-03","hauteur":0.79},{"date":"2012-02-05","hauteur":0.7},{"date":"2012-02-08","hauteur":0.68},{"date":"2012-02-09","hauteur":0.6},{"date":"2012-02-10","hauteur":0.55},{"date":"2012-02-11","hauteur":0.55},{"date":"2012-02-12","hauteur":0.55},{"date":"2012-02-13","hauteur":0.55},{"date":"2012-02-14","hauteur":0.68},{"date":"2012-02-15","hauteur":0.74},{"date":"2012-02-16","hauteur":0.76},{"date":"2012-02-17","hauteur":0.78},{"date":"2012-02-18","hauteur":0.74},{"date":"2012-02-20","hauteur":0.7},{"date":"2012-02-21","hauteur":0.7},{"date":"2012-02-22","hauteur":0.68},{"date":"2012-02-23","hauteur":0.68},{"date":"2012-02-24","hauteur":0.68},{"date":"2012-02-25","hauteur":0.63},{"date":"2012-02-26","hauteur":0.6},{"date":"2012-02-27","hauteur":0.6},{"date":"2012-02-28","hauteur":0.6},{"date":"2012-03-01","hauteur":0.5},{"date":"2012-03-02","hauteur":0.6},{"date":"2012-03-03","hauteur":0.72},{"date":"2012-03-04","hauteur":0.62},{"date":"2012-03-05","hauteur":0.63},{"date":"2012-03-06","hauteur":0.63},{"date":"2012-03-07","hauteur":0.64},{"date":"2012-03-08","hauteur":0.7},{"date":"2012-03-09","hauteur":0.68},{"date":"2012-03-10","hauteur":0.64},{"date":"2012-03-11","hauteur":0.64},{"date":"2012-03-12","hauteur":0.64},{"date":"2012-03-13","hauteur":0.62},{"date":"2012-03-16","hauteur":0.54},{"date":"2012-03-17","hauteur":0.54},{"date":"2012-03-18","hauteur":0.54},{"date":"2012-03-19","hauteur":0.59},{"date":"2012-03-20","hauteur":0.6},{"date":"2012-03-21","hauteur":0.62},{"date":"2012-03-22","hauteur":1.05},{"date":"2012-03-23","hauteur":1.05},{"date":"2012-03-24","hauteur":0.81}
],
"s2012": [
{"date":"2012-11-28","hauteur":0.39},{"date":"2012-12-03","hauteur":0.5},{"date":"2012-12-04","hauteur":0.48},{"date":"2012-12-05","hauteur":0.81},{"date":"2012-12-07","hauteur":0.75},{"date":"2012-12-08","hauteur":0.8},{"date":"2012-12-09","hauteur":0.82},{"date":"2012-12-10","hauteur":0.75},{"date":"2012-12-11","hauteur":0.73},{"date":"2012-12-13","hauteur":0.68},{"date":"2012-12-14","hauteur":0.65},{"date":"2012-12-15","hauteur":0.6},{"date":"2012-12-16","hauteur":0.55},{"date":"2012-12-17","hauteur":0.55},{"date":"2012-12-18","hauteur":0.53},{"date":"2012-12-19","hauteur":0.55},{"date":"2012-12-20","hauteur":0.55},{"date":"2012-12-21","hauteur":0.55},{"date":"2012-12-22","hauteur":0.5},{"date":"2012-12-23","hauteur":0.44},{"date":"2012-12-24","hauteur":0.39},{"date":"2012-12-25","hauteur":0.39},{"date":"2012-12-26","hauteur":0.44},{"date":"2012-12-28","hauteur":0.44},{"date":"2012-12-30","hauteur":0.34},{"date":"2012-12-31","hauteur":0.34},{"date":"2013-01-01","hauteur":0.39},{"date":"2013-01-02","hauteur":0.48},{"date":"2013-01-03","hauteur":0.48},{"date":"2013-01-05","hauteur":0.44},{"date":"2013-01-06","hauteur":0.44},{"date":"2013-01-07","hauteur":0.44},{"date":"2013-01-08","hauteur":0.44},{"date":"2013-01-09","hauteur":0.44},{"date":"2013-01-10","hauteur":0.44},{"date":"2013-01-11","hauteur":0.39},{"date":"2013-01-12","hauteur":0.39},{"date":"2013-01-13","hauteur":0.55},{"date":"2013-01-18","hauteur":1.4},{"date":"2013-01-19","hauteur":1.2},{"date":"2013-01-20","hauteur":1.25},{"date":"2013-01-21","hauteur":1.3},{"date":"2013-01-22","hauteur":1.31},{"date":"2013-01-23","hauteur":1.3},{"date":"2013-01-24","hauteur":1.5},{"date":"2013-01-25","hauteur":1.5},{"date":"2013-01-26","hauteur":1.5},{"date":"2013-01-27","hauteur":1.5},{"date":"2013-01-28","hauteur":1.5},{"date":"2013-01-29","hauteur":1.15},{"date":"2013-01-30","hauteur":1.4},{"date":"2013-01-31","hauteur":1.35},{"date":"2013-02-01","hauteur":1.3},{"date":"2013-02-02","hauteur":1.5},{"date":"2013-02-03","hauteur":1.5},{"date":"2013-02-04","hauteur":1.5},{"date":"2013-02-05","hauteur":1.45},{"date":"2013-02-06","hauteur":1.5},{"date":"2013-02-08","hauteur":1.7},{"date":"2013-02-09","hauteur":1.7},{"date":"2013-02-11","hauteur":1.88},{"date":"2013-02-12","hauteur":1.9},{"date":"2013-02-13","hauteur":1.92},{"date":"2013-02-14","hauteur":1.9},{"date":"2013-02-15","hauteur":1.8},{"date":"2013-02-16","hauteur":1.8},{"date":"2013-02-17","hauteur":1.75},{"date":"2013-02-18","hauteur":1.7},{"date":"2013-02-19","hauteur":1.7},{"date":"2013-02-20","hauteur":1.7},{"date":"2013-02-21","hauteur":1.68},{"date":"2013-02-22","hauteur":1.7},{"date":"2013-02-23","hauteur":1.7},{"date":"2013-02-24","hauteur":1.62},{"date":"2013-02-25","hauteur":1.8},{"date":"2013-02-26","hauteur":1.84},{"date":"2013-02-27","hauteur":1.8},{"date":"2013-02-28","hauteur":1.8},{"date":"2013-03-02","hauteur":1.7},{"date":"2013-03-03","hauteur":1.7},{"date":"2013-03-04","hauteur":1.7},{"date":"2013-03-05","hauteur":1.65},{"date":"2013-03-06","hauteur":1.5},{"date":"2013-03-07","hauteur":1.5},{"date":"2013-03-09","hauteur":1.4},{"date":"2013-03-11","hauteur":1.4},{"date":"2013-03-12","hauteur":1.45},{"date":"2013-03-13","hauteur":1.6},{"date":"2013-03-14","hauteur":1.78},{"date":"2013-03-15","hauteur":1.82},{"date":"2013-03-16","hauteur":1.7},{"date":"2013-03-18","hauteur":1.7},{"date":"2013-03-19","hauteur":1.6},{"date":"2013-03-20","hauteur":1.62},{"date":"2013-03-21","hauteur":1.6},{"date":"2013-03-22","hauteur":1.6},{"date":"2013-03-23","hauteur":1.5},{"date":"2013-03-25","hauteur":1.53},{"date":"2013-03-26","hauteur":1.5},{"date":"2013-03-27","hauteur":1.47},{"date":"2013-03-28","hauteur":1.42},{"date":"2013-03-30","hauteur":1.3},{"date":"2013-03-31","hauteur":1.3}
],
"s2013": [
{"date":"2013-12-09","hauteur":0.84},{"date":"2013-12-13","hauteur":0.79},{"date":"2013-12-14","hauteur":0.74},{"date":"2013-12-15","hauteur":0.74},{"date":"2013-12-16","hauteur":0.74},{"date":"2013-12-17","hauteur":0.69},{"date":"2013-12-18","hauteur":0.69},{"date":"2013-12-19","hauteur":0.64},{"date":"2013-12-20","hauteur":0.79},{"date":"2013-12-21","hauteur":0.78},{"date":"2013-12-23","hauteur":0.72},{"date":"2013-12-24","hauteur":0.69},{"date":"2013-12-25","hauteur":0.74},{"date":"2013-12-26","hauteur":0.8},{"date":"2013-12-27","hauteur":0.95},{"date":"2013-12-29","hauteur":0.9},{"date":"2013-12-31","hauteur":0.05},{"date":"2014-01-01","hauteur":0.9},{"date":"2014-01-02","hauteur":0.9},{"date":"2014-01-03","hauteur":0.9},{"date":"2014-01-05","hauteur":1.0},{"date":"2014-01-06","hauteur":0.87},{"date":"2014-01-07","hauteur":0.85},{"date":"2014-01-08","hauteur":0.74},{"date":"2014-01-09","hauteur":0.74},{"date":"2014-01-10","hauteur":0.69},{"date":"2014-01-11","hauteur":0.69},{"date":"2014-01-12","hauteur":0.59},{"date":"2014-01-13","hauteur":0.59},{"date":"2014-01-14","hauteur":0.69},{"date":"2014-01-15","hauteur":0.78},{"date":"2014-01-16","hauteur":0.74},{"date":"2014-01-17","hauteur":0.74},{"date":"2014-01-20","hauteur":1.2},{"date":"2014-01-21","hauteur":1.05},{"date":"2014-01-22","hauteur":1.05},{"date":"2014-01-23","hauteur":1.05},{"date":"2014-01-24","hauteur":1.25},{"date":"2014-01-25","hauteur":1.1},{"date":"2014-01-26","hauteur":1.03},{"date":"2014-01-27","hauteur":1.03},{"date":"2014-01-28","hauteur":1.15},{"date":"2014-01-29","hauteur":1.15},{"date":"2014-01-30","hauteur":1.15},{"date":"2014-01-31","hauteur":1.1},{"date":"2014-02-01","hauteur":1.05},{"date":"2014-02-02","hauteur":1.29},{"date":"2014-02-04","hauteur":1.24},{"date":"2014-02-05","hauteur":1.2},{"date":"2014-02-06","hauteur":1.15},{"date":"2014-02-08","hauteur":1.05},{"date":"2014-02-09","hauteur":1.1},{"date":"2014-02-10","hauteur":1.15},{"date":"2014-02-11","hauteur":1.24},{"date":"2014-02-12","hauteur":1.24},{"date":"2014-02-13","hauteur":1.2},{"date":"2014-02-14","hauteur":1.2},{"date":"2014-02-14","hauteur":1.1},{"date":"2014-02-15","hauteur":1.0},{"date":"2014-02-16","hauteur":1.1},{"date":"2014-02-17","hauteur":1.12},{"date":"2014-02-18","hauteur":1.1},{"date":"2014-02-19","hauteur":1.1},{"date":"2014-02-20","hauteur":1.09},{"date":"2014-02-21","hauteur":1.12},{"date":"2014-02-22","hauteur":1.15},{"date":"2014-02-23","hauteur":1.1},{"date":"2014-02-24","hauteur":1.1},{"date":"2014-02-25","hauteur":1.1},{"date":"2014-02-26","hauteur":1.24},{"date":"2014-02-27","hauteur":1.24},{"date":"2014-02-28","hauteur":1.2},{"date":"2014-03-03","hauteur":1.7},{"date":"2014-03-06","hauteur":1.6},{"date":"2014-03-07","hauteur":1.6},{"date":"2014-03-08","hauteur":1.6},{"date":"2014-03-09","hauteur":1.6},{"date":"2014-03-11","hauteur":1.49},{"date":"2014-03-12","hauteur":1.49},{"date":"2014-03-13","hauteur":1.49},{"date":"2014-03-14","hauteur":1.49},{"date":"2014-03-15","hauteur":1.46},{"date":"2014-03-17","hauteur":0.39},{"date":"2014-03-18","hauteur":1.35},{"date":"2014-03-19","hauteur":1.3},{"date":"2014-03-20","hauteur":1.3},{"date":"2014-03-22","hauteur":1.27},{"date":"2014-03-23","hauteur":1.4},{"date":"2014-03-24","hauteur":1.4},{"date":"2014-03-25","hauteur":1.45},{"date":"2014-03-27","hauteur":1.6},{"date":"2014-03-28","hauteur":1.6},{"date":"2014-03-29","hauteur":1.45},{"date":"2014-03-30","hauteur":1.44},{"date":"2014-03-31","hauteur":1.35},{"date":"2014-04-01","hauteur":1.3},{"date":"2014-04-02","hauteur":1.25},{"date":"2014-04-03","hauteur":1.15},{"date":"2014-04-04","hauteur":1.24},{"date":"2014-04-05","hauteur":1.1}
],
"s2014": [
{"date":"2014-12-14","hauteur":0.4},{"date":"2014-12-24","hauteur":0.1},{"date":"2014-12-25","hauteur":0.1},{"date":"2014-12-26","hauteur":0.1},{"date":"2014-12-29","hauteur":0.75},{"date":"2014-12-31","hauteur":0.65},{"date":"2015-01-02","hauteur":0.6},{"date":"2015-01-03","hauteur":0.6},{"date":"2015-01-04","hauteur":0.58},{"date":"2015-01-05","hauteur":0.56},{"date":"2015-01-07","hauteur":0.55},{"date":"2015-01-09","hauteur":0.55},{"date":"2015-01-10","hauteur":0.5},{"date":"2015-01-11","hauteur":0.5},{"date":"2015-01-12","hauteur":0.55},{"date":"2015-01-13","hauteur":0.5},{"date":"2015-01-14","hauteur":0.5},{"date":"2015-01-15","hauteur":0.5},{"date":"2015-01-16","hauteur":0.53},{"date":"2015-01-17","hauteur":0.85},{"date":"2015-01-18","hauteur":0.8},{"date":"2015-01-19","hauteur":0.8},{"date":"2015-01-20","hauteur":0.8},{"date":"2015-01-22","hauteur":0.8},{"date":"2015-01-23","hauteur":0.8},{"date":"2015-01-24","hauteur":0.8},{"date":"2015-01-25","hauteur":0.75},{"date":"2015-01-26","hauteur":0.75},{"date":"2015-01-27","hauteur":0.75},{"date":"2015-01-29","hauteur":0.75},{"date":"2015-02-02","hauteur":1.55},{"date":"2015-02-04","hauteur":1.4},{"date":"2015-02-05","hauteur":1.44},{"date":"2015-02-06","hauteur":1.44},{"date":"2015-02-07","hauteur":1.44},{"date":"2015-02-08","hauteur":1.4},{"date":"2015-02-09","hauteur":1.4},{"date":"2015-02-10","hauteur":1.35},{"date":"2015-02-11","hauteur":1.3},{"date":"2015-02-13","hauteur":1.2},{"date":"2015-02-14","hauteur":1.2},{"date":"2015-02-15","hauteur":1.3},{"date":"2015-02-17","hauteur":1.35},{"date":"2015-02-18","hauteur":1.35},{"date":"2015-02-20","hauteur":1.3},{"date":"2015-02-21","hauteur":1.35},{"date":"2015-02-22","hauteur":1.45},{"date":"2015-02-23","hauteur":1.3},{"date":"2015-02-28","hauteur":1.63},{"date":"2015-03-01","hauteur":1.55},{"date":"2015-03-02","hauteur":1.43},{"date":"2015-03-03","hauteur":1.35},{"date":"2015-03-05","hauteur":1.5},{"date":"2015-03-07","hauteur":1.35},{"date":"2015-03-08","hauteur":1.35},{"date":"2015-03-10","hauteur":1.3},{"date":"2015-03-11","hauteur":1.3},{"date":"2015-03-12","hauteur":1.3},{"date":"2015-03-13","hauteur":1.25},{"date":"2015-03-14","hauteur":1.3},{"date":"2015-03-15","hauteur":1.4},{"date":"2015-03-16","hauteur":1.5},{"date":"2015-03-17","hauteur":1.4},{"date":"2015-03-18","hauteur":1.4},{"date":"2015-03-19","hauteur":1.35},{"date":"2015-03-21","hauteur":1.3},{"date":"2015-03-22","hauteur":1.3},{"date":"2015-03-23","hauteur":1.4},{"date":"2015-03-25","hauteur":1.6},{"date":"2015-03-29","hauteur":1.3},{"date":"2015-03-30","hauteur":1.3},{"date":"2015-03-31","hauteur":1.2},{"date":"2015-04-01","hauteur":1.12},{"date":"2015-04-03","hauteur":1.16},{"date":"2015-04-04","hauteur":1.1},{"date":"2015-04-05","hauteur":1.1},{"date":"2015-05-31","hauteur":0}
],
"s2015": [
{"date":"2016-01-05","hauteur":0.14},{"date":"2016-01-07","hauteur":0.29},{"date":"2016-01-08","hauteur":0.09},{"date":"2016-01-12","hauteur":0.03},{"date":"2016-01-15","hauteur":0.09},{"date":"2016-01-17","hauteur":0.29},{"date":"2016-01-19","hauteur":0.44},{"date":"2016-01-20","hauteur":0.44},{"date":"2016-01-21","hauteur":0.39},{"date":"2016-01-22","hauteur":0.39},{"date":"2016-01-28","hauteur":0.18},{"date":"2016-01-29","hauteur":0.14},{"date":"2016-01-30","hauteur":0.14},{"date":"2016-02-02","hauteur":0.14},{"date":"2016-02-03","hauteur":0.14},{"date":"2016-02-05","hauteur":0.17},{"date":"2016-02-06","hauteur":0.14},{"date":"2016-02-07","hauteur":0.29},{"date":"2016-02-08","hauteur":0.29},{"date":"2016-02-09","hauteur":0.29},{"date":"2016-02-11","hauteur":0.39},{"date":"2016-02-12","hauteur":0.29},{"date":"2016-02-13","hauteur":0.29},{"date":"2016-02-14","hauteur":0.34},{"date":"2016-02-15","hauteur":0.44},{"date":"2016-02-17","hauteur":0.5},{"date":"2016-02-18","hauteur":0.5},{"date":"2016-02-19","hauteur":0.53},{"date":"2016-02-20","hauteur":0.5},{"date":"2016-02-21","hauteur":0.5},{"date":"2016-02-22","hauteur":0.39},{"date":"2016-02-24","hauteur":0.39},{"date":"2016-02-25","hauteur":0.44},{"date":"2016-02-27","hauteur":0.55},{"date":"2016-02-28","hauteur":0.68},{"date":"2016-02-29","hauteur":0.68},{"date":"2016-03-01","hauteur":0.67},{"date":"2016-03-02","hauteur":0.67},{"date":"2016-03-03","hauteur":0.65},{"date":"2016-03-04","hauteur":0.67},{"date":"2016-03-05","hauteur":0.74},{"date":"2016-03-06","hauteur":0.84},{"date":"2016-03-07","hauteur":0.8},{"date":"2016-03-08","hauteur":0.84},{"date":"2016-03-09","hauteur":0.79},{"date":"2016-03-11","hauteur":1.05},{"date":"2016-03-12","hauteur":1.0},{"date":"2016-03-13","hauteur":1.0},{"date":"2016-03-14","hauteur":1.05},{"date":"2016-03-15","hauteur":1.0},{"date":"2016-03-16","hauteur":1.0},{"date":"2016-03-17","hauteur":1.05},{"date":"2016-03-18","hauteur":1.05},{"date":"2016-03-19","hauteur":1.0},{"date":"2016-03-20","hauteur":0.95},{"date":"2016-03-21","hauteur":0.9},{"date":"2016-03-23","hauteur":0.85},{"date":"2016-03-24","hauteur":0.85},{"date":"2016-03-25","hauteur":0.79},{"date":"2016-03-26","hauteur":0.74},{"date":"2016-03-27","hauteur":0.69},{"date":"2016-03-28","hauteur":0.69},{"date":"2016-03-29","hauteur":0.69},{"date":"2016-03-30","hauteur":0.6},{"date":"2016-03-31","hauteur":0.6},{"date":"2016-04-01","hauteur":0.5},{"date":"2016-04-02","hauteur":0.5},{"date":"2016-04-05","hauteur":0.45},{"date":"2016-04-06","hauteur":0.5},{"date":"2016-04-07","hauteur":0.44},{"date":"2016-04-09","hauteur":0.65}
],
"s2016": [
{"date":"2016-12-27","hauteur":0},{"date":"2016-12-29","hauteur":0},{"date":"2016-12-30","hauteur":0},{"date":"2016-12-31","hauteur":0},{"date":"2017-01-01","hauteur":0},{"date":"2017-01-02","hauteur":0},{"date":"2017-01-03","hauteur":0},{"date":"2017-01-04","hauteur":0},{"date":"2017-01-06","hauteur":0},{"date":"2017-01-08","hauteur":0},{"date":"2017-01-09","hauteur":0.02},{"date":"2017-01-10","hauteur":0.2},{"date":"2017-01-12","hauteur":0.41},{"date":"2017-01-13","hauteur":0.44},{"date":"2017-01-14","hauteur":0.54},{"date":"2017-01-15","hauteur":0.65},{"date":"2017-01-16","hauteur":0.9},{"date":"2017-01-17","hauteur":0.9},{"date":"2017-01-18","hauteur":0.9},{"date":"2017-01-22","hauteur":0.9},{"date":"2017-01-23","hauteur":0.8},{"date":"2017-01-24","hauteur":0.8},{"date":"2017-01-25","hauteur":0.8},{"date":"2017-01-26","hauteur":0.8},{"date":"2017-01-27","hauteur":0.75},{"date":"2017-01-28","hauteur":0.77},{"date":"2017-01-29","hauteur":0.8},{"date":"2017-01-30","hauteur":0.8},{"date":"2017-01-31","hauteur":0.75},{"date":"2017-02-01","hauteur":0.73},{"date":"2017-02-02","hauteur":0.7},{"date":"2017-02-03","hauteur":0.7},{"date":"2017-02-04","hauteur":0.68},{"date":"2017-02-05","hauteur":0.71},{"date":"2017-02-06","hauteur":0.85},{"date":"2017-02-07","hauteur":0.75},{"date":"2017-02-08","hauteur":0.83},{"date":"2017-02-09","hauteur":0.8},{"date":"2017-02-10","hauteur":0.8},{"date":"2017-02-11","hauteur":0.78},{"date":"2017-02-13","hauteur":0.73},{"date":"2017-02-15","hauteur":0.7},{"date":"2017-02-16","hauteur":0.7},{"date":"2017-02-17","hauteur":0.7},{"date":"2017-02-18","hauteur":0.68},{"date":"2017-02-21","hauteur":0.65},{"date":"2017-02-22","hauteur":0.64},{"date":"2017-02-23","hauteur":0.64},{"date":"2017-02-24","hauteur":0.6},{"date":"2017-02-25","hauteur":0.6},{"date":"2017-02-26","hauteur":0.6},{"date":"2017-02-27","hauteur":0.6},{"date":"2017-02-28","hauteur":0.6},{"date":"2017-03-01","hauteur":0.65},{"date":"2017-03-02","hauteur":0.65},{"date":"2017-03-03","hauteur":0.65},{"date":"2017-03-05","hauteur":0.92},{"date":"2017-03-06","hauteur":0.84},{"date":"2017-03-07","hauteur":0.56},{"date":"2017-03-08","hauteur":0.68},{"date":"2017-03-09","hauteur":0.6},{"date":"2017-03-10","hauteur":0.58},{"date":"2017-03-11","hauteur":0.54},{"date":"2017-03-12","hauteur":0.45},{"date":"2017-03-13","hauteur":0.48},{"date":"2017-03-14","hauteur":0.45},{"date":"2017-03-16","hauteur":0.43},{"date":"2017-03-18","hauteur":0.33},{"date":"2017-03-19","hauteur":0.2},{"date":"2017-03-21","hauteur":0.15},{"date":"2017-03-24","hauteur":0.41},{"date":"2017-03-27","hauteur":0.54},{"date":"2017-03-28","hauteur":0.5},{"date":"2017-03-29","hauteur":0.44},{"date":"2017-03-30","hauteur":0.41},{"date":"2017-03-31","hauteur":0.36},{"date":"2017-04-03","hauteur":0.36},{"date":"2017-04-06","hauteur":0.31},{"date":"2017-04-07","hauteur":0.21}
],
"s2017": [
{"date":"2017-12-09","hauteur":0.55},{"date":"2017-12-10","hauteur":0.5},{"date":"2017-12-24","hauteur":0.24},{"date":"2017-12-25","hauteur":0.6},{"date":"2017-12-26","hauteur":0.6},{"date":"2017-12-29","hauteur":0.95},{"date":"2017-12-30","hauteur":0.79},{"date":"2017-12-31","hauteur":0.79},{"date":"2018-01-01","hauteur":0.9},{"date":"2018-01-02","hauteur":0.94},{"date":"2018-01-03","hauteur":0.7},{"date":"2018-01-04","hauteur":0.65},{"date":"2018-01-05","hauteur":0.65},{"date":"2018-01-06","hauteur":0.6},{"date":"2018-01-07","hauteur":0.9},{"date":"2018-01-08","hauteur":0.8},{"date":"2018-01-09","hauteur":0.75},{"date":"2018-01-10","hauteur":0.74},{"date":"2018-01-14","hauteur":0.8},{"date":"2018-01-15","hauteur":0.84},{"date":"2018-01-16","hauteur":0.79},{"date":"2018-01-17","hauteur":0.76},{"date":"2018-01-18","hauteur":0.76},{"date":"2018-01-19","hauteur":0.76},{"date":"2018-01-20","hauteur":0.76},{"date":"2018-01-21","hauteur":0.71},{"date":"2018-01-22","hauteur":0.64},{"date":"2018-01-23","hauteur":0.6},{"date":"2018-01-24","hauteur":0.6},{"date":"2018-01-25","hauteur":0.52},{"date":"2018-01-28","hauteur":1.0},{"date":"2018-01-30","hauteur":0.9},{"date":"2018-01-31","hauteur":0.9},{"date":"2018-02-01","hauteur":0.88},{"date":"2018-02-02","hauteur":1.09},{"date":"2018-02-04","hauteur":1.1},{"date":"2018-02-05","hauteur":1.25},{"date":"2018-02-07","hauteur":1.3},{"date":"2018-02-08","hauteur":1.37},{"date":"2018-02-10","hauteur":1.26},{"date":"2018-02-11","hauteur":1.35},{"date":"2018-02-12","hauteur":1.32},{"date":"2018-02-13","hauteur":1.31},{"date":"2018-02-14","hauteur":1.35},{"date":"2018-02-16","hauteur":1.15},{"date":"2018-02-17","hauteur":1.05},{"date":"2018-02-18","hauteur":1.1},{"date":"2018-02-19","hauteur":1.35},{"date":"2018-02-20","hauteur":1.4},{"date":"2018-02-21","hauteur":1.58},{"date":"2018-02-22","hauteur":1.55},{"date":"2018-02-23","hauteur":1.53},{"date":"2018-02-24","hauteur":1.5},{"date":"2018-02-25","hauteur":1.45},{"date":"2018-02-26","hauteur":1.41},{"date":"2018-02-27","hauteur":1.41},{"date":"2018-02-28","hauteur":1.41},{"date":"2018-03-01","hauteur":1.41},{"date":"2018-03-02","hauteur":1.3},{"date":"2018-03-04","hauteur":1.25},{"date":"2018-03-05","hauteur":1.2},{"date":"2018-03-06","hauteur":1.24},{"date":"2018-03-07","hauteur":1.24},{"date":"2018-03-09","hauteur":1.2},{"date":"2018-03-10","hauteur":1.1},{"date":"2018-03-11","hauteur":1.0},{"date":"2018-03-12","hauteur":1.0},{"date":"2018-03-13","hauteur":1.0},{"date":"2018-03-14","hauteur":1.0},{"date":"2018-03-15","hauteur":1.0},{"date":"2018-03-16","hauteur":1.0},{"date":"2018-03-17","hauteur":1.0},{"date":"2018-03-18","hauteur":1.1},{"date":"2018-03-19","hauteur":1.1},{"date":"2018-03-20","hauteur":1.3},{"date":"2018-03-21","hauteur":1.3},{"date":"2018-03-23","hauteur":1.2},{"date":"2018-03-24","hauteur":1.35},{"date":"2018-03-25","hauteur":1.35},{"date":"2018-03-26","hauteur":1.35},{"date":"2018-03-27","hauteur":1.35},{"date":"2018-03-28","hauteur":1.25},{"date":"2018-03-29","hauteur":1.2},{"date":"2018-03-31","hauteur":1.2},{"date":"2018-04-01","hauteur":1.29},{"date":"2018-04-02","hauteur":1.2}
],
"s2018": [
{"date":"2019-01-13","hauteur":0.15},{"date":"2019-01-14","hauteur":0.12},{"date":"2019-01-15","hauteur":0.07},{"date":"2019-01-18","hauteur":0.19},{"date":"2019-01-19","hauteur":0.2},{"date":"2019-01-20","hauteur":0.15},{"date":"2019-01-21","hauteur":0.3},{"date":"2019-01-22","hauteur":0.3},{"date":"2019-01-27","hauteur":0.51},{"date":"2019-01-28","hauteur":0.64},{"date":"2019-01-30","hauteur":0.95},{"date":"2019-02-02","hauteur":0.83},{"date":"2019-02-03","hauteur":1.19},{"date":"2019-02-04","hauteur":1.1},{"date":"2019-02-07","hauteur":0.8},{"date":"2019-02-09","hauteur":0.8},{"date":"2019-02-10","hauteur":0.8},{"date":"2019-02-11","hauteur":0.8},{"date":"2019-02-18","hauteur":0.75},{"date":"2019-02-20","hauteur":0.75},{"date":"2019-02-21","hauteur":0.75},{"date":"2019-02-22","hauteur":0.75},{"date":"2019-02-23","hauteur":0.75},{"date":"2019-02-24","hauteur":0.7},{"date":"2019-02-25","hauteur":0.7},{"date":"2019-02-26","hauteur":0.7},{"date":"2019-03-01","hauteur":0.65},{"date":"2019-03-02","hauteur":0.65},{"date":"2019-03-03","hauteur":0.5},{"date":"2019-03-04","hauteur":0.5},{"date":"2019-03-05","hauteur":0.5},{"date":"2019-03-08","hauteur":0.6},{"date":"2019-03-09","hauteur":0.58},{"date":"2019-03-10","hauteur":0.58},{"date":"2019-03-11","hauteur":0.58},{"date":"2019-03-13","hauteur":0.6},{"date":"2019-03-14","hauteur":0.6},{"date":"2019-03-15","hauteur":0.6},{"date":"2019-03-22","hauteur":0.6},{"date":"2019-03-24","hauteur":0.58},{"date":"2019-03-26","hauteur":0.54}
],
"s2019": [
{"date":"2019-12-22","hauteur":0.1},{"date":"2019-12-24","hauteur":0.15},{"date":"2019-12-31","hauteur":0.1},{"date":"2020-01-22","hauteur":0.24},{"date":"2020-01-23","hauteur":0.45},{"date":"2020-01-25","hauteur":0.35},{"date":"2020-01-26","hauteur":0.42},{"date":"2020-01-27","hauteur":0.5},{"date":"2020-01-29","hauteur":0.5},{"date":"2020-01-30","hauteur":0.45},{"date":"2020-01-31","hauteur":0.29},{"date":"2020-02-01","hauteur":0.28},{"date":"2020-02-04","hauteur":0.2},{"date":"2020-02-05","hauteur":0.2},{"date":"2020-02-06","hauteur":0.17},{"date":"2020-02-07","hauteur":0.15},{"date":"2020-02-08","hauteur":0.15},{"date":"2020-02-11","hauteur":0.15},{"date":"2020-02-12","hauteur":0.15},{"date":"2020-02-13","hauteur":0.15},{"date":"2020-02-14","hauteur":0.15},{"date":"2020-02-15","hauteur":0.15},{"date":"2020-02-16","hauteur":0},{"date":"2020-02-17","hauteur":0},{"date":"2020-02-18","hauteur":0.03},{"date":"2020-02-19","hauteur":0.03},{"date":"2020-02-20","hauteur":0.03},{"date":"2020-02-21","hauteur":0.03},{"date":"2020-02-22","hauteur":0},{"date":"2020-02-23","hauteur":0},{"date":"2020-02-25","hauteur":0},{"date":"2020-02-26","hauteur":0},{"date":"2020-02-27","hauteur":0},{"date":"2020-02-29","hauteur":0},{"date":"2020-03-02","hauteur":0.02},{"date":"2020-03-03","hauteur":0.15},{"date":"2020-03-04","hauteur":0.17},{"date":"2020-03-05","hauteur":0.13},{"date":"2020-03-06","hauteur":0.15},{"date":"2020-03-07","hauteur":0.15},{"date":"2020-03-08","hauteur":0.4},{"date":"2020-03-09","hauteur":0.45},{"date":"2020-03-10","hauteur":0.45},{"date":"2020-03-11","hauteur":0.4},{"date":"2020-03-12","hauteur":0.35},{"date":"2020-03-14","hauteur":0}
],
"s2020": [
{"date":"2020-12-21","hauteur":0.34},{"date":"2020-12-23","hauteur":0.29},{"date":"2020-12-25","hauteur":0.35},{"date":"2020-12-27","hauteur":0.47},{"date":"2020-12-29","hauteur":0.47},{"date":"2020-12-30","hauteur":0.69},{"date":"2021-01-01","hauteur":0.78},{"date":"2021-01-10","hauteur":0.9},{"date":"2021-01-15","hauteur":0.78},{"date":"2021-01-16","hauteur":0.79},{"date":"2021-01-17","hauteur":0.78},{"date":"2021-01-23","hauteur":0.75},{"date":"2021-01-24","hauteur":0.79},{"date":"2021-01-27","hauteur":0.73},{"date":"2021-01-29","hauteur":0.57},{"date":"2021-01-30","hauteur":0.5},{"date":"2021-01-31","hauteur":0.68},{"date":"2021-02-05","hauteur":0.4},{"date":"2021-02-06","hauteur":0.31},{"date":"2021-02-07","hauteur":0.35},{"date":"2021-02-10","hauteur":0.46},{"date":"2021-02-12","hauteur":0.43},{"date":"2021-02-13","hauteur":0.4},{"date":"2021-02-15","hauteur":0.41},{"date":"2021-02-18","hauteur":0.35},{"date":"2021-02-19","hauteur":0.3},{"date":"2021-02-20","hauteur":0.3}
],
"s2021": [
{"date":"2021-12-22","hauteur":0.96},{"date":"2021-12-23","hauteur":0.96},{"date":"2021-12-28","hauteur":0.86},{"date":"2021-12-29","hauteur":0.83},{"date":"2021-12-30","hauteur":0.8},{"date":"2021-12-31","hauteur":0.8},{"date":"2022-01-04","hauteur":0.78},{"date":"2022-01-05","hauteur":0.91},{"date":"2022-01-07","hauteur":0.91},{"date":"2022-01-08","hauteur":0.91},{"date":"2022-01-11","hauteur":0.96},{"date":"2022-01-12","hauteur":0.86},{"date":"2022-01-13","hauteur":0.86},{"date":"2022-01-14","hauteur":0.86},{"date":"2022-01-15","hauteur":0.86}
]
},
"vconcat": [
{"data":{"name":"s1996"},"width":1116,"height":175.4,"mark":"point","encoding":{"x":{"field":"date","type":"temporal","scale":{"type":"utc","domain":["1996-11-01","1997-06-01"]}},"y":{"field":"hauteur","type":"quantitative","scale":{"domain":[0,3]},"axis":{"title":"hauteur neige 1996 1997"}}}},
{"data":{"name":"s1997"},"width":1116,"height":175.4,"mark":"point","encoding":{"x":{"field":"date","type":"temporal","scale":{"type":"utc","domain":["1997-11-01","1998-06-01"]}},"y":{"field":"hauteur","type":"quantitative","scale":{"domain":[0,3]},"axis":{"title":"hauteur neige 1997 1998"}}}},
{"data":{"name":"s1998"},"width":1116,"height":175.4,"mark":"point","encoding":{"x":{"field":"date","type":"temporal","scale":{"type":"utc","domain":["1998-11-01","1999-06-01"]}},"y":{"field":"hauteur","type":"quantitative","scale":{"domain":[0,3]},"axis":{"title":"hauteur neige 1998 1999"}}}},
{"data":{"name":"s1999"},"width":1116,"height":175.4,"mark":"point","encoding":{"x":{"field":"date","type":"temporal","scale":{"type":"utc","domain":["1999-11-01","2000-06-01"]}},"y":{"field":"hauteur","type":"quantitative","scale":{"domain":[0,3]},"axis":{"title":"hauteur neige 1999 2000"}}}},
{"data":{"name":"s2000"},"width":1116,"height":175.4,"mark":"point","encoding":{"x":{"field":"date","type":"temporal","scale":{"type":"utc","domain":["2000-11-01","2001-06-01"]}},"y":{"field":"hauteur","type":"quantitative","scale":{"domain":[0,3]},"axis":{"title":"hauteur neige 2000 2001"}}}},
{"data":{"name":"s2001"},"width":1116,"height":175.4,"mark":"point","encoding":{"x":{"field":"date","type":"temporal","scale":{"type":"utc","domain":["2001-11-01","2002-06-01"]}},"y":{"field":"hauteur","type":"quantitative","scale":{"domain":[0,3]},"axis":{"title":"hauteur neige 2001 2002"}}}},
{"data":{"name":"s2002"},"width":1116,"height":175.4,"mark":"point","encoding":{"x":{"field":"date","type":"temporal","scale":{"type":"utc","domain":["2002-11-01","2003-06-01"]}},"y":{"field":"hauteur","type":"quantitative","scale":{"domain":[0,3]},"axis":{"title":"hauteur neige 2002 2003"}}}},
{"data":{"name":"s2003"},"width":1116,"height":175.4,"mark":"point","encoding":{"x":{"field":"date","type":"temporal","scale":{"type":"utc","domain":["2003-11-01","2004-06-01"]}},"y":{"field":"hauteur","type":"quantitative","scale":{"domain":[0,3]},"axis":{"title":"hauteur neige 2003 2004"}}}},
{"data":{"name":"s2004"},"width":1116,"height":175.4,"mark":"point","encoding":{"x":{"field":"date","type":"temporal","scale":{"type":"utc","domain":["2004-11-01","2005-06-01"]}},"y":{"field":"hauteur","type":"quantitative","scale":{"domain":[0,3]},"axis":{"title":"hauteur neige 2004 2005"}}}},
{"data":{"name":"s2005"},"width":1116,"height":175.4,"mark":"point","encoding":{"x":{"field":"date","type":"temporal","scale":{"type":"utc","domain":["2005-11-01","2006-06-01"]}},"y":{"field":"hauteur","type":"quantitative","scale":{"domain":[0,3]},"axis":{"title":"hauteur neige 2005 2006"}}}},
{"data":{"name":"s2006"},"width":1116,"height":175.4,"mark":"point","encoding":{"x":{"field":"date","type":"temporal","scale":{"type":"utc","domain":["2006-11-01","2007-06-01"]}},"y":{"field":"hauteur","type":"quantitative","scale":{"domain":[0,3]},"axis":{"title":"hauteur neige 2006 2007"}}}},
{"data":{"name":"s2007"},"width":1116,"height":175.4,"mark":"point","encoding":{"x":{"field":"date","type":"temporal","scale":{"type":"utc","domain":["2007-11-01","2008-06-01"]}},"y":{"field":"hauteur","type":"quantitative","scale":{"domain":[0,3]},"axis":{"title":"hauteur neige 2007 2008"}}}},
{"data":{"name":"s2008"},"width":1116,"height":175.4,"mark":"point","encoding":{"x":{"field":"date","type":"temporal","scale":{"type":"utc","domain":["2008-11-01","2009-06-01"]}},"y":{"field":"hauteur","type":"quantitative","scale":{"domain":[0,3]},"axis":{"title":"hauteur neige 2008 2009"}}}},
{"data":{"name":"s2009"},"width":1116,"height":175.4,"mark":"point","encoding":{"x":{"field":"date","type":"temporal","scale":{"type":"utc","domain":["2009-11-01","2010-06-01"]}},"y":{"field":"hauteur","type":"quantitative","scale":{"domain":[0,3]},"axis":{"title":"hauteur neige 2009 2010"}}}},
{"data":{"name":"s2010"},"width":1116,"height":175.4,"mark":"point","encoding":{"x":{"field":"date","type":"temporal","scale":{"type":"utc","domain":["2010-11-01","2011-06-01"]}},"y":{"field":"hauteur","type":"quantitative","scale":{"domain":[0,3]},"axis":{"title":"hauteur neige 2010 2011"}}}},
{"data":{"name":"s2011"},"width":1116,"height":175.4,"mark":"point","encoding":{"x":{"field":"date","type":"temporal","scale":{"type":"utc","domain":["2011-11-01","2012-06-01"]}},"y":{"field":"hauteur","type":"quantitative","scale":{"domain":[0,3]},"axis":{"title":"hauteur neige 2011 2012"}}}},
{"data":{"name":"s2012"},"width":1116,"height":175.4,"mark":"point","encoding":{"x":{"field":"date","type":"temporal","scale":{"type":"utc","domain":["2012-11-01","2013-06-01"]}},"y":{"field":"hauteur","type":"quantitative","scale":{"domain":[0,3]},"axis":{"title":"hauteur neige 2012 2013"}}}},
{"data":{"name":"s2013"},"width":1116,"height":175.4,"mark":"point","encoding":{"x":{"field":"date","type":"temporal","scale":{"type":"utc","domain":["2013-11-01","2014-06-01"]}},"y":{"field":"hauteur","type":"quantitative","scale":{"domain":[0,3]},"axis":{"title":"hauteur neige 2013 2014"}}}},
{"data":{"name":"s2014"},"width":1116,"height":175.4,"mark":"point","encoding":{"x":{"field":"date","type":"temporal","scale":{"type":"utc","domain":["2014-11-01","2015-06-01"]}},"y":{"field":"hauteur","type":"quantitative","scale":{"domain":[0,3]},"axis":{"title":"hauteur neige 2014 2015"}}}},
{"data":{"name":"s2015"},"width":1116,"height":175.4,"mark":"point","encoding":{"x":{"field":"date","type":"temporal","scale":{"type":"utc","domain":["2015-11-01","2016-06-01"]}},"y":{"field":"hauteur","type":"quantitative","scale":{"domain":[0,3]},"axis":{"title":"hauteur neige 2015 2016"}}}},
{"data":{"name":"s2016"},"width":1116,"height":175.4,"mark":"point","encoding":{"x":{"field":"date","type":"temporal","scale":{"type":"utc","domain":["2016-11-01","2017-06-01"]}},"y":{"field":"hauteur","type":"quantitative","scale":{"domain":[0,3]},"axis":{"title":"hauteur neige 2016 2017"}}}},
{"data":{"name":"s2017"},"width":1116,"height":175.4,"mark":"point","encoding":{"x":{"field":"date","type":"temporal","scale":{"type":"utc","domain":["2017-11-01","2018-06-01"]}},"y":{"field":"hauteur","type":"quantitative","scale":{"domain":[0,3]},"axis":{"title":"hauteur neige 2017 2018"}}}},
{"data":{"name":"s2018"},"width":1116,"height":175.4,"mark":"point","encoding":{"x":{"field":"date","type":"temporal","scale":{"type":"utc","domain":["2018-11-01","2019-06-01"]}},"y":{"field":"hauteur","type":"quantitative","scale":{"domain":[0,3]},"axis":{"title":"hauteur neige 2018 2019"}}}},
{"data":{"name":"s2019"},"width":1116,"height":175.4,"mark":"point","encoding":{"x":{"field":"date","type":"temporal","scale":{"type":"utc","domain":["2019-11-01","2020-06-01"]}},"y":{"field":"hauteur","type":"quantitative","scale":{"domain":[0,3]},"axis":{"title":"hauteur neige 2019 2020"}}}},
{"data":{"name":"s2020"},"width":1116,"height":175.4,"mark":"point","encoding":{"x":{"field":"date","type":"temporal","scale":{"type":"utc","domain":["2020-11-01","2021-06-01"]}},"y":{"field":"hauteur","type":"quantitative","scale":{"domain":[0,3]},"axis":{"title":"hauteur neige 2020 2021"}}}},
{"data":{"name":"s2021"},"width":1116,"height":175.4,"mark":"point","encoding":{"x":{"field":"date","type":"temporal","scale":{"type":"utc","domain":["2021-11-01","2022-06-01"]}},"y":{"field":"hauteur","type":"quantitative","scale":{"domain":[0,3]},"axis":{"title":"hauteur neige 2021 2022"}}}}
]
}
